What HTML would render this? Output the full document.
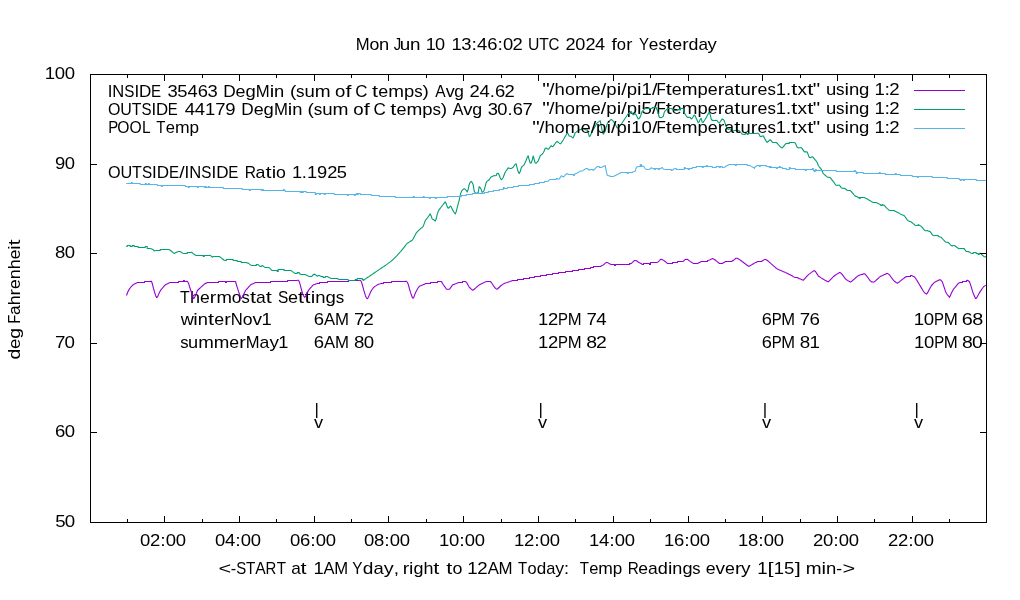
<!DOCTYPE html>
<html lang="en"><head><meta charset="utf-8"><title>Temperatures</title>
<style>
html,body{margin:0;padding:0;background:#fff;}
body{width:1020px;height:600px;overflow:hidden;}
svg{display:block;will-change:transform;}
text{font-family:"Liberation Sans",sans-serif;font-size:17px;fill:#000;font-kerning:none;}
.ax{stroke:#000;stroke-width:1;fill:none;shape-rendering:crispEdges;}
.c{fill:none;stroke-width:1.1;stroke-linejoin:round;stroke-linecap:butt;}
</style></head><body>
<svg width="1020" height="600" viewBox="0 0 1020 600">
<rect x="0" y="0" width="1020" height="600" fill="#ffffff"/>
<text xml:space="preserve"><tspan x="355.73" y="49.60" textLength="13.89" lengthAdjust="spacingAndGlyphs">M</tspan><tspan x="369.41" y="49.60" textLength="9.85" lengthAdjust="spacingAndGlyphs">o</tspan><tspan x="379.09" y="49.60" textLength="10.20" lengthAdjust="spacingAndGlyphs">n</tspan> <tspan x="393.87" y="49.60" textLength="7.48" lengthAdjust="spacingAndGlyphs">J</tspan><tspan x="399.84" y="49.60" textLength="10.49" lengthAdjust="spacingAndGlyphs">u</tspan><tspan x="410.14" y="49.60" textLength="10.49" lengthAdjust="spacingAndGlyphs">n</tspan> <tspan x="425.72" y="49.60" textLength="10.10" lengthAdjust="spacingAndGlyphs">1</tspan><tspan x="435.11" y="49.60" textLength="10.10" lengthAdjust="spacingAndGlyphs">0</tspan> <tspan x="451.40" y="49.60" textLength="10.25" lengthAdjust="spacingAndGlyphs">1</tspan><tspan x="461.28" y="49.60" textLength="10.25" lengthAdjust="spacingAndGlyphs">3</tspan><tspan x="471.54" y="49.60" textLength="5.43" lengthAdjust="spacingAndGlyphs">:</tspan><tspan x="476.97" y="49.60" textLength="10.25" lengthAdjust="spacingAndGlyphs">4</tspan><tspan x="487.22" y="49.60" textLength="10.25" lengthAdjust="spacingAndGlyphs">6</tspan><tspan x="497.48" y="49.60" textLength="5.43" lengthAdjust="spacingAndGlyphs">:</tspan><tspan x="502.91" y="49.60" textLength="10.25" lengthAdjust="spacingAndGlyphs">0</tspan><tspan x="512.47" y="49.60" textLength="10.25" lengthAdjust="spacingAndGlyphs">2</tspan> <tspan x="528.08" y="49.60" textLength="11.40" lengthAdjust="spacingAndGlyphs">U</tspan><tspan x="539.35" y="49.60" textLength="9.52" lengthAdjust="spacingAndGlyphs">T</tspan><tspan x="548.60" y="49.60" textLength="10.88" lengthAdjust="spacingAndGlyphs">C</tspan> <tspan x="565.49" y="49.60" textLength="10.09" lengthAdjust="spacingAndGlyphs">2</tspan><tspan x="575.33" y="49.60" textLength="10.09" lengthAdjust="spacingAndGlyphs">0</tspan><tspan x="585.41" y="49.60" textLength="10.09" lengthAdjust="spacingAndGlyphs">2</tspan><tspan x="595.14" y="49.60" textLength="10.09" lengthAdjust="spacingAndGlyphs">4</tspan> <tspan x="611.53" y="49.60" textLength="5.31" lengthAdjust="spacingAndGlyphs">f</tspan><tspan x="616.77" y="49.60" textLength="9.23" lengthAdjust="spacingAndGlyphs">o</tspan><tspan x="626.31" y="49.60" textLength="6.20" lengthAdjust="spacingAndGlyphs">r</tspan> <tspan x="638.97" y="49.60" textLength="9.98" lengthAdjust="spacingAndGlyphs">Y</tspan><tspan x="648.84" y="49.60" textLength="9.58" lengthAdjust="spacingAndGlyphs">e</tspan><tspan x="658.42" y="49.60" textLength="8.11" lengthAdjust="spacingAndGlyphs">s</tspan><tspan x="666.56" y="49.60" textLength="6.05" lengthAdjust="spacingAndGlyphs">t</tspan><tspan x="672.64" y="49.60" textLength="9.58" lengthAdjust="spacingAndGlyphs">e</tspan><tspan x="682.22" y="49.60" textLength="6.40" lengthAdjust="spacingAndGlyphs">r</tspan><tspan x="688.62" y="49.60" textLength="9.88" lengthAdjust="spacingAndGlyphs">d</tspan><tspan x="698.51" y="49.60" textLength="9.54" lengthAdjust="spacingAndGlyphs">a</tspan><tspan x="707.62" y="49.60" textLength="9.22" lengthAdjust="spacingAndGlyphs">y</tspan></text>
<text xml:space="preserve"><tspan x="44.78" y="79.00" textLength="10.34" lengthAdjust="spacingAndGlyphs">1</tspan><tspan x="54.75" y="79.00" textLength="10.34" lengthAdjust="spacingAndGlyphs">0</tspan><tspan x="64.74" y="79.00" textLength="10.34" lengthAdjust="spacingAndGlyphs">0</tspan></text>
<text xml:space="preserve"><tspan x="55.03" y="168.56" textLength="10.27" lengthAdjust="spacingAndGlyphs">9</tspan><tspan x="64.80" y="168.56" textLength="10.27" lengthAdjust="spacingAndGlyphs">0</tspan></text>
<text xml:space="preserve"><tspan x="55.09" y="258.12" textLength="10.31" lengthAdjust="spacingAndGlyphs">8</tspan><tspan x="64.76" y="258.12" textLength="10.31" lengthAdjust="spacingAndGlyphs">0</tspan></text>
<text xml:space="preserve"><tspan x="54.94" y="347.68" textLength="10.44" lengthAdjust="spacingAndGlyphs">7</tspan><tspan x="64.64" y="347.68" textLength="10.44" lengthAdjust="spacingAndGlyphs">0</tspan></text>
<text xml:space="preserve"><tspan x="54.96" y="437.24" textLength="10.33" lengthAdjust="spacingAndGlyphs">6</tspan><tspan x="64.74" y="437.24" textLength="10.33" lengthAdjust="spacingAndGlyphs">0</tspan></text>
<text xml:space="preserve"><tspan x="55.15" y="526.80" textLength="10.40" lengthAdjust="spacingAndGlyphs">5</tspan><tspan x="64.68" y="526.80" textLength="10.40" lengthAdjust="spacingAndGlyphs">0</tspan></text>
<text xml:space="preserve"><tspan x="140.08" y="545.60" textLength="10.29" lengthAdjust="spacingAndGlyphs">0</tspan><tspan x="150.02" y="545.60" textLength="10.29" lengthAdjust="spacingAndGlyphs">2</tspan><tspan x="160.31" y="545.60" textLength="5.45" lengthAdjust="spacingAndGlyphs">:</tspan><tspan x="165.75" y="545.60" textLength="10.29" lengthAdjust="spacingAndGlyphs">0</tspan><tspan x="175.69" y="545.60" textLength="10.29" lengthAdjust="spacingAndGlyphs">0</tspan></text>
<text xml:space="preserve"><tspan x="215.08" y="545.60" textLength="10.29" lengthAdjust="spacingAndGlyphs">0</tspan><tspan x="225.02" y="545.60" textLength="10.29" lengthAdjust="spacingAndGlyphs">4</tspan><tspan x="235.31" y="545.60" textLength="5.45" lengthAdjust="spacingAndGlyphs">:</tspan><tspan x="240.75" y="545.60" textLength="10.29" lengthAdjust="spacingAndGlyphs">0</tspan><tspan x="250.69" y="545.60" textLength="10.29" lengthAdjust="spacingAndGlyphs">0</tspan></text>
<text xml:space="preserve"><tspan x="290.08" y="545.60" textLength="10.29" lengthAdjust="spacingAndGlyphs">0</tspan><tspan x="300.02" y="545.60" textLength="10.29" lengthAdjust="spacingAndGlyphs">6</tspan><tspan x="310.31" y="545.60" textLength="5.45" lengthAdjust="spacingAndGlyphs">:</tspan><tspan x="315.75" y="545.60" textLength="10.29" lengthAdjust="spacingAndGlyphs">0</tspan><tspan x="325.69" y="545.60" textLength="10.29" lengthAdjust="spacingAndGlyphs">0</tspan></text>
<text xml:space="preserve"><tspan x="364.08" y="545.60" textLength="10.29" lengthAdjust="spacingAndGlyphs">0</tspan><tspan x="374.02" y="545.60" textLength="10.29" lengthAdjust="spacingAndGlyphs">8</tspan><tspan x="384.31" y="545.60" textLength="5.45" lengthAdjust="spacingAndGlyphs">:</tspan><tspan x="389.75" y="545.60" textLength="10.29" lengthAdjust="spacingAndGlyphs">0</tspan><tspan x="399.69" y="545.60" textLength="10.29" lengthAdjust="spacingAndGlyphs">0</tspan></text>
<text xml:space="preserve"><tspan x="439.09" y="545.60" textLength="10.29" lengthAdjust="spacingAndGlyphs">1</tspan><tspan x="449.01" y="545.60" textLength="10.29" lengthAdjust="spacingAndGlyphs">0</tspan><tspan x="459.30" y="545.60" textLength="5.45" lengthAdjust="spacingAndGlyphs">:</tspan><tspan x="464.75" y="545.60" textLength="10.29" lengthAdjust="spacingAndGlyphs">0</tspan><tspan x="474.69" y="545.60" textLength="10.29" lengthAdjust="spacingAndGlyphs">0</tspan></text>
<text xml:space="preserve"><tspan x="514.09" y="545.60" textLength="10.29" lengthAdjust="spacingAndGlyphs">1</tspan><tspan x="524.01" y="545.60" textLength="10.29" lengthAdjust="spacingAndGlyphs">2</tspan><tspan x="534.30" y="545.60" textLength="5.45" lengthAdjust="spacingAndGlyphs">:</tspan><tspan x="539.75" y="545.60" textLength="10.29" lengthAdjust="spacingAndGlyphs">0</tspan><tspan x="549.69" y="545.60" textLength="10.29" lengthAdjust="spacingAndGlyphs">0</tspan></text>
<text xml:space="preserve"><tspan x="589.09" y="545.60" textLength="10.29" lengthAdjust="spacingAndGlyphs">1</tspan><tspan x="599.01" y="545.60" textLength="10.29" lengthAdjust="spacingAndGlyphs">4</tspan><tspan x="609.30" y="545.60" textLength="5.45" lengthAdjust="spacingAndGlyphs">:</tspan><tspan x="614.75" y="545.60" textLength="10.29" lengthAdjust="spacingAndGlyphs">0</tspan><tspan x="624.69" y="545.60" textLength="10.29" lengthAdjust="spacingAndGlyphs">0</tspan></text>
<text xml:space="preserve"><tspan x="664.09" y="545.60" textLength="10.29" lengthAdjust="spacingAndGlyphs">1</tspan><tspan x="674.01" y="545.60" textLength="10.29" lengthAdjust="spacingAndGlyphs">6</tspan><tspan x="684.30" y="545.60" textLength="5.45" lengthAdjust="spacingAndGlyphs">:</tspan><tspan x="689.75" y="545.60" textLength="10.29" lengthAdjust="spacingAndGlyphs">0</tspan><tspan x="699.69" y="545.60" textLength="10.29" lengthAdjust="spacingAndGlyphs">0</tspan></text>
<text xml:space="preserve"><tspan x="738.09" y="545.60" textLength="10.29" lengthAdjust="spacingAndGlyphs">1</tspan><tspan x="748.01" y="545.60" textLength="10.29" lengthAdjust="spacingAndGlyphs">8</tspan><tspan x="758.30" y="545.60" textLength="5.45" lengthAdjust="spacingAndGlyphs">:</tspan><tspan x="763.75" y="545.60" textLength="10.29" lengthAdjust="spacingAndGlyphs">0</tspan><tspan x="773.69" y="545.60" textLength="10.29" lengthAdjust="spacingAndGlyphs">0</tspan></text>
<text xml:space="preserve"><tspan x="812.99" y="545.60" textLength="10.29" lengthAdjust="spacingAndGlyphs">2</tspan><tspan x="823.02" y="545.60" textLength="10.29" lengthAdjust="spacingAndGlyphs">0</tspan><tspan x="833.30" y="545.60" textLength="5.45" lengthAdjust="spacingAndGlyphs">:</tspan><tspan x="838.75" y="545.60" textLength="10.29" lengthAdjust="spacingAndGlyphs">0</tspan><tspan x="848.69" y="545.60" textLength="10.29" lengthAdjust="spacingAndGlyphs">0</tspan></text>
<text xml:space="preserve"><tspan x="887.99" y="545.60" textLength="10.29" lengthAdjust="spacingAndGlyphs">2</tspan><tspan x="898.02" y="545.60" textLength="10.29" lengthAdjust="spacingAndGlyphs">2</tspan><tspan x="908.30" y="545.60" textLength="5.45" lengthAdjust="spacingAndGlyphs">:</tspan><tspan x="913.75" y="545.60" textLength="10.29" lengthAdjust="spacingAndGlyphs">0</tspan><tspan x="923.69" y="545.60" textLength="10.29" lengthAdjust="spacingAndGlyphs">0</tspan></text>
<text xml:space="preserve"><tspan x="218.63" y="573.80" textLength="12.71" lengthAdjust="spacingAndGlyphs">&lt;</tspan><tspan x="230.84" y="573.80" textLength="5.49" lengthAdjust="spacingAndGlyphs">-</tspan><tspan x="236.17" y="573.80" textLength="9.98" lengthAdjust="spacingAndGlyphs">S</tspan><tspan x="245.99" y="573.80" textLength="9.29" lengthAdjust="spacingAndGlyphs">T</tspan><tspan x="255.28" y="573.80" textLength="10.41" lengthAdjust="spacingAndGlyphs">A</tspan><tspan x="265.57" y="573.80" textLength="10.80" lengthAdjust="spacingAndGlyphs">R</tspan><tspan x="276.65" y="573.80" textLength="9.29" lengthAdjust="spacingAndGlyphs">T</tspan> <tspan x="291.17" y="573.80" textLength="9.58" lengthAdjust="spacingAndGlyphs">a</tspan><tspan x="300.41" y="573.80" textLength="6.05" lengthAdjust="spacingAndGlyphs">t</tspan> <tspan x="313.60" y="573.80" textLength="10.24" lengthAdjust="spacingAndGlyphs">1</tspan><tspan x="323.47" y="573.80" textLength="11.01" lengthAdjust="spacingAndGlyphs">A</tspan><tspan x="334.28" y="573.80" textLength="13.89" lengthAdjust="spacingAndGlyphs">M</tspan> <tspan x="352.26" y="573.80" textLength="10.24" lengthAdjust="spacingAndGlyphs">Y</tspan><tspan x="362.87" y="573.80" textLength="10.64" lengthAdjust="spacingAndGlyphs">d</tspan><tspan x="373.51" y="573.80" textLength="10.27" lengthAdjust="spacingAndGlyphs">a</tspan><tspan x="383.79" y="573.80" textLength="9.92" lengthAdjust="spacingAndGlyphs">y</tspan><tspan x="393.79" y="573.80" textLength="5.33" lengthAdjust="spacingAndGlyphs">,</tspan> <tspan x="402.71" y="573.80" textLength="6.48" lengthAdjust="spacingAndGlyphs">r</tspan><tspan x="409.05" y="573.80" textLength="4.38" lengthAdjust="spacingAndGlyphs">i</tspan><tspan x="413.42" y="573.80" textLength="10.00" lengthAdjust="spacingAndGlyphs">g</tspan><tspan x="423.42" y="573.80" textLength="9.98" lengthAdjust="spacingAndGlyphs">h</tspan><tspan x="433.31" y="573.80" textLength="6.05" lengthAdjust="spacingAndGlyphs">t</tspan> <tspan x="446.27" y="573.80" textLength="6.05" lengthAdjust="spacingAndGlyphs">t</tspan><tspan x="452.40" y="573.80" textLength="9.95" lengthAdjust="spacingAndGlyphs">o</tspan> <tspan x="467.28" y="573.80" textLength="10.38" lengthAdjust="spacingAndGlyphs">1</tspan><tspan x="477.29" y="573.80" textLength="10.38" lengthAdjust="spacingAndGlyphs">2</tspan><tspan x="487.66" y="573.80" textLength="11.16" lengthAdjust="spacingAndGlyphs">A</tspan><tspan x="498.61" y="573.80" textLength="14.07" lengthAdjust="spacingAndGlyphs">M</tspan> <tspan x="518.06" y="573.80" textLength="9.14" lengthAdjust="spacingAndGlyphs">T</tspan><tspan x="527.57" y="573.80" textLength="9.14" lengthAdjust="spacingAndGlyphs">o</tspan><tspan x="536.72" y="573.80" textLength="9.49" lengthAdjust="spacingAndGlyphs">d</tspan><tspan x="546.20" y="573.80" textLength="9.16" lengthAdjust="spacingAndGlyphs">a</tspan><tspan x="555.36" y="573.80" textLength="8.85" lengthAdjust="spacingAndGlyphs">y</tspan><tspan x="564.12" y="573.80" textLength="5.04" lengthAdjust="spacingAndGlyphs">:</tspan>  <tspan x="579.66" y="573.80" textLength="9.14" lengthAdjust="spacingAndGlyphs">T</tspan><tspan x="589.17" y="573.80" textLength="9.20" lengthAdjust="spacingAndGlyphs">e</tspan><tspan x="598.37" y="573.80" textLength="14.56" lengthAdjust="spacingAndGlyphs">m</tspan><tspan x="612.83" y="573.80" textLength="9.49" lengthAdjust="spacingAndGlyphs">p</tspan> <tspan x="627.65" y="573.80" textLength="11.03" lengthAdjust="spacingAndGlyphs">R</tspan><tspan x="638.37" y="573.80" textLength="9.77" lengthAdjust="spacingAndGlyphs">e</tspan><tspan x="648.14" y="573.80" textLength="9.73" lengthAdjust="spacingAndGlyphs">a</tspan><tspan x="657.87" y="573.80" textLength="10.08" lengthAdjust="spacingAndGlyphs">d</tspan><tspan x="667.95" y="573.80" textLength="4.41" lengthAdjust="spacingAndGlyphs">i</tspan><tspan x="672.36" y="573.80" textLength="10.06" lengthAdjust="spacingAndGlyphs">n</tspan><tspan x="682.42" y="573.80" textLength="10.08" lengthAdjust="spacingAndGlyphs">g</tspan><tspan x="692.33" y="573.80" textLength="8.27" lengthAdjust="spacingAndGlyphs">s</tspan> <tspan x="705.85" y="573.80" textLength="9.88" lengthAdjust="spacingAndGlyphs">e</tspan><tspan x="715.59" y="573.80" textLength="9.50" lengthAdjust="spacingAndGlyphs">v</tspan><tspan x="725.10" y="573.80" textLength="9.88" lengthAdjust="spacingAndGlyphs">e</tspan><tspan x="734.97" y="573.80" textLength="6.60" lengthAdjust="spacingAndGlyphs">r</tspan><tspan x="741.13" y="573.80" textLength="9.50" lengthAdjust="spacingAndGlyphs">y</tspan> <tspan x="757.38" y="573.80" textLength="10.34" lengthAdjust="spacingAndGlyphs">1</tspan><tspan x="767.50" y="573.80" textLength="6.05" lengthAdjust="spacingAndGlyphs">[</tspan><tspan x="773.69" y="573.80" textLength="10.34" lengthAdjust="spacingAndGlyphs">1</tspan><tspan x="784.02" y="573.80" textLength="10.34" lengthAdjust="spacingAndGlyphs">5</tspan><tspan x="794.81" y="573.80" textLength="6.05" lengthAdjust="spacingAndGlyphs">]</tspan> <tspan x="805.84" y="573.80" textLength="15.85" lengthAdjust="spacingAndGlyphs">m</tspan><tspan x="821.48" y="573.80" textLength="4.52" lengthAdjust="spacingAndGlyphs">i</tspan><tspan x="826.00" y="573.80" textLength="10.32" lengthAdjust="spacingAndGlyphs">n</tspan><tspan x="836.31" y="573.80" textLength="5.87" lengthAdjust="spacingAndGlyphs">-</tspan><tspan x="842.46" y="573.80" textLength="12.71" lengthAdjust="spacingAndGlyphs">&gt;</tspan></text>
<text transform="rotate(-90 20.00 359.70)" xml:space="preserve"><tspan x="20.09" y="359.70" textLength="10.77" lengthAdjust="spacingAndGlyphs">d</tspan><tspan x="30.73" y="359.70" textLength="10.44" lengthAdjust="spacingAndGlyphs">e</tspan><tspan x="40.88" y="359.70" textLength="10.77" lengthAdjust="spacingAndGlyphs">g</tspan> <tspan x="55.97" y="359.70" textLength="9.14" lengthAdjust="spacingAndGlyphs">F</tspan><tspan x="64.70" y="359.70" textLength="9.64" lengthAdjust="spacingAndGlyphs">a</tspan><tspan x="74.34" y="359.70" textLength="9.97" lengthAdjust="spacingAndGlyphs">h</tspan><tspan x="84.30" y="359.70" textLength="6.46" lengthAdjust="spacingAndGlyphs">r</tspan><tspan x="90.77" y="359.70" textLength="9.67" lengthAdjust="spacingAndGlyphs">e</tspan><tspan x="100.44" y="359.70" textLength="9.97" lengthAdjust="spacingAndGlyphs">n</tspan><tspan x="110.40" y="359.70" textLength="9.97" lengthAdjust="spacingAndGlyphs">h</tspan><tspan x="120.37" y="359.70" textLength="9.67" lengthAdjust="spacingAndGlyphs">e</tspan><tspan x="130.04" y="359.70" textLength="4.37" lengthAdjust="spacingAndGlyphs">i</tspan><tspan x="134.31" y="359.70" textLength="6.05" lengthAdjust="spacingAndGlyphs">t</tspan></text>
<text xml:space="preserve"><tspan x="107.64" y="96.80" textLength="4.71" lengthAdjust="spacingAndGlyphs">I</tspan><tspan x="112.34" y="96.80" textLength="11.95" lengthAdjust="spacingAndGlyphs">N</tspan><tspan x="124.29" y="96.80" textLength="10.14" lengthAdjust="spacingAndGlyphs">S</tspan><tspan x="134.43" y="96.80" textLength="4.71" lengthAdjust="spacingAndGlyphs">I</tspan><tspan x="139.13" y="96.80" textLength="12.30" lengthAdjust="spacingAndGlyphs">D</tspan><tspan x="151.06" y="96.80" textLength="10.09" lengthAdjust="spacingAndGlyphs">E</tspan> <tspan x="167.50" y="96.80" textLength="10.24" lengthAdjust="spacingAndGlyphs">3</tspan><tspan x="177.22" y="96.80" textLength="10.24" lengthAdjust="spacingAndGlyphs">5</tspan><tspan x="187.46" y="96.80" textLength="10.24" lengthAdjust="spacingAndGlyphs">4</tspan><tspan x="197.70" y="96.80" textLength="10.24" lengthAdjust="spacingAndGlyphs">6</tspan><tspan x="207.47" y="96.80" textLength="10.24" lengthAdjust="spacingAndGlyphs">3</tspan> <tspan x="223.29" y="96.80" textLength="12.45" lengthAdjust="spacingAndGlyphs">D</tspan><tspan x="235.57" y="96.80" textLength="9.95" lengthAdjust="spacingAndGlyphs">e</tspan><tspan x="245.51" y="96.80" textLength="10.27" lengthAdjust="spacingAndGlyphs">g</tspan><tspan x="255.78" y="96.80" textLength="13.95" lengthAdjust="spacingAndGlyphs">M</tspan><tspan x="269.73" y="96.80" textLength="4.49" lengthAdjust="spacingAndGlyphs">i</tspan><tspan x="274.05" y="96.80" textLength="10.25" lengthAdjust="spacingAndGlyphs">n</tspan> <tspan x="289.92" y="96.80" textLength="6.35" lengthAdjust="spacingAndGlyphs">(</tspan><tspan x="296.05" y="96.80" textLength="8.48" lengthAdjust="spacingAndGlyphs">s</tspan><tspan x="304.52" y="96.80" textLength="10.31" lengthAdjust="spacingAndGlyphs">u</tspan><tspan x="314.71" y="96.80" textLength="15.85" lengthAdjust="spacingAndGlyphs">m</tspan> <tspan x="335.12" y="96.80" textLength="10.35" lengthAdjust="spacingAndGlyphs">o</tspan><tspan x="345.61" y="96.80" textLength="5.96" lengthAdjust="spacingAndGlyphs">f</tspan> <tspan x="355.31" y="96.80" textLength="12.23" lengthAdjust="spacingAndGlyphs">C</tspan> <tspan x="372.07" y="96.80" textLength="6.05" lengthAdjust="spacingAndGlyphs">t</tspan><tspan x="378.30" y="96.80" textLength="9.95" lengthAdjust="spacingAndGlyphs">e</tspan><tspan x="388.25" y="96.80" textLength="15.75" lengthAdjust="spacingAndGlyphs">m</tspan><tspan x="404.00" y="96.80" textLength="10.26" lengthAdjust="spacingAndGlyphs">p</tspan><tspan x="414.26" y="96.80" textLength="8.42" lengthAdjust="spacingAndGlyphs">s</tspan><tspan x="422.47" y="96.80" textLength="6.31" lengthAdjust="spacingAndGlyphs">)</tspan> <tspan x="435.37" y="96.80" textLength="10.38" lengthAdjust="spacingAndGlyphs">A</tspan><tspan x="445.66" y="96.80" textLength="8.98" lengthAdjust="spacingAndGlyphs">v</tspan><tspan x="454.38" y="96.80" textLength="9.63" lengthAdjust="spacingAndGlyphs">g</tspan> <tspan x="469.57" y="96.80" textLength="10.27" lengthAdjust="spacingAndGlyphs">2</tspan><tspan x="479.59" y="96.80" textLength="10.27" lengthAdjust="spacingAndGlyphs">4</tspan><tspan x="489.85" y="96.80" textLength="5.13" lengthAdjust="spacingAndGlyphs">.</tspan><tspan x="494.98" y="96.80" textLength="10.27" lengthAdjust="spacingAndGlyphs">6</tspan><tspan x="504.56" y="96.80" textLength="10.27" lengthAdjust="spacingAndGlyphs">2</tspan></text>
<text xml:space="preserve"><tspan x="107.94" y="114.80" textLength="12.42" lengthAdjust="spacingAndGlyphs">O</tspan><tspan x="120.23" y="114.80" textLength="11.55" lengthAdjust="spacingAndGlyphs">U</tspan><tspan x="131.78" y="114.80" textLength="9.64" lengthAdjust="spacingAndGlyphs">T</tspan><tspan x="141.42" y="114.80" textLength="10.02" lengthAdjust="spacingAndGlyphs">S</tspan><tspan x="151.44" y="114.80" textLength="4.65" lengthAdjust="spacingAndGlyphs">I</tspan><tspan x="156.09" y="114.80" textLength="12.15" lengthAdjust="spacingAndGlyphs">D</tspan><tspan x="167.86" y="114.80" textLength="9.98" lengthAdjust="spacingAndGlyphs">E</tspan> <tspan x="184.77" y="114.80" textLength="10.31" lengthAdjust="spacingAndGlyphs">4</tspan><tspan x="194.72" y="114.80" textLength="10.31" lengthAdjust="spacingAndGlyphs">4</tspan><tspan x="205.02" y="114.80" textLength="10.31" lengthAdjust="spacingAndGlyphs">1</tspan><tspan x="215.33" y="114.80" textLength="10.31" lengthAdjust="spacingAndGlyphs">7</tspan><tspan x="225.37" y="114.80" textLength="10.31" lengthAdjust="spacingAndGlyphs">9</tspan> <tspan x="241.39" y="114.80" textLength="12.45" lengthAdjust="spacingAndGlyphs">D</tspan><tspan x="253.67" y="114.80" textLength="9.95" lengthAdjust="spacingAndGlyphs">e</tspan><tspan x="263.61" y="114.80" textLength="10.27" lengthAdjust="spacingAndGlyphs">g</tspan><tspan x="273.88" y="114.80" textLength="13.95" lengthAdjust="spacingAndGlyphs">M</tspan><tspan x="287.83" y="114.80" textLength="4.49" lengthAdjust="spacingAndGlyphs">i</tspan><tspan x="292.15" y="114.80" textLength="10.25" lengthAdjust="spacingAndGlyphs">n</tspan> <tspan x="307.51" y="114.80" textLength="6.40" lengthAdjust="spacingAndGlyphs">(</tspan><tspan x="313.69" y="114.80" textLength="8.54" lengthAdjust="spacingAndGlyphs">s</tspan><tspan x="322.23" y="114.80" textLength="10.39" lengthAdjust="spacingAndGlyphs">u</tspan><tspan x="332.49" y="114.80" textLength="15.97" lengthAdjust="spacingAndGlyphs">m</tspan> <tspan x="353.21" y="114.80" textLength="10.42" lengthAdjust="spacingAndGlyphs">o</tspan><tspan x="363.77" y="114.80" textLength="6.00" lengthAdjust="spacingAndGlyphs">f</tspan> <tspan x="373.40" y="114.80" textLength="12.35" lengthAdjust="spacingAndGlyphs">C</tspan> <tspan x="390.17" y="114.80" textLength="6.05" lengthAdjust="spacingAndGlyphs">t</tspan><tspan x="396.44" y="114.80" textLength="10.00" lengthAdjust="spacingAndGlyphs">e</tspan><tspan x="406.44" y="114.80" textLength="15.83" lengthAdjust="spacingAndGlyphs">m</tspan><tspan x="422.27" y="114.80" textLength="10.32" lengthAdjust="spacingAndGlyphs">p</tspan><tspan x="432.59" y="114.80" textLength="8.47" lengthAdjust="spacingAndGlyphs">s</tspan><tspan x="440.84" y="114.80" textLength="6.34" lengthAdjust="spacingAndGlyphs">)</tspan> <tspan x="452.77" y="114.80" textLength="10.68" lengthAdjust="spacingAndGlyphs">A</tspan><tspan x="463.36" y="114.80" textLength="9.24" lengthAdjust="spacingAndGlyphs">v</tspan><tspan x="472.34" y="114.80" textLength="9.91" lengthAdjust="spacingAndGlyphs">g</tspan> <tspan x="487.70" y="114.80" textLength="10.20" lengthAdjust="spacingAndGlyphs">3</tspan><tspan x="497.38" y="114.80" textLength="10.20" lengthAdjust="spacingAndGlyphs">0</tspan><tspan x="507.58" y="114.80" textLength="5.10" lengthAdjust="spacingAndGlyphs">.</tspan><tspan x="512.67" y="114.80" textLength="10.20" lengthAdjust="spacingAndGlyphs">6</tspan><tspan x="522.42" y="114.80" textLength="10.20" lengthAdjust="spacingAndGlyphs">7</tspan></text>
<text xml:space="preserve"><tspan x="108.17" y="132.80" textLength="9.98" lengthAdjust="spacingAndGlyphs">P</tspan><tspan x="117.21" y="132.80" textLength="12.18" lengthAdjust="spacingAndGlyphs">O</tspan><tspan x="129.39" y="132.80" textLength="12.18" lengthAdjust="spacingAndGlyphs">O</tspan><tspan x="142.00" y="132.80" textLength="8.62" lengthAdjust="spacingAndGlyphs">L</tspan> <tspan x="156.16" y="132.80" textLength="9.17" lengthAdjust="spacingAndGlyphs">T</tspan><tspan x="165.72" y="132.80" textLength="9.24" lengthAdjust="spacingAndGlyphs">e</tspan><tspan x="174.96" y="132.80" textLength="14.63" lengthAdjust="spacingAndGlyphs">m</tspan><tspan x="189.49" y="132.80" textLength="9.53" lengthAdjust="spacingAndGlyphs">p</tspan></text>
<text xml:space="preserve"><tspan x="107.93" y="177.50" textLength="12.60" lengthAdjust="spacingAndGlyphs">O</tspan><tspan x="120.40" y="177.50" textLength="11.72" lengthAdjust="spacingAndGlyphs">U</tspan><tspan x="132.12" y="177.50" textLength="9.78" lengthAdjust="spacingAndGlyphs">T</tspan><tspan x="141.89" y="177.50" textLength="10.16" lengthAdjust="spacingAndGlyphs">S</tspan><tspan x="152.05" y="177.50" textLength="4.72" lengthAdjust="spacingAndGlyphs">I</tspan><tspan x="156.78" y="177.50" textLength="12.33" lengthAdjust="spacingAndGlyphs">D</tspan><tspan x="169.10" y="177.50" textLength="10.11" lengthAdjust="spacingAndGlyphs">E</tspan><tspan x="179.22" y="177.50" textLength="5.39" lengthAdjust="spacingAndGlyphs">/</tspan><tspan x="184.61" y="177.50" textLength="4.72" lengthAdjust="spacingAndGlyphs">I</tspan><tspan x="189.33" y="177.50" textLength="11.97" lengthAdjust="spacingAndGlyphs">N</tspan><tspan x="201.30" y="177.50" textLength="10.16" lengthAdjust="spacingAndGlyphs">S</tspan><tspan x="211.46" y="177.50" textLength="4.72" lengthAdjust="spacingAndGlyphs">I</tspan><tspan x="216.18" y="177.50" textLength="12.33" lengthAdjust="spacingAndGlyphs">D</tspan><tspan x="228.14" y="177.50" textLength="10.11" lengthAdjust="spacingAndGlyphs">E</tspan> <tspan x="244.63" y="177.50" textLength="11.21" lengthAdjust="spacingAndGlyphs">R</tspan><tspan x="255.52" y="177.50" textLength="9.88" lengthAdjust="spacingAndGlyphs">a</tspan><tspan x="265.55" y="177.50" textLength="6.05" lengthAdjust="spacingAndGlyphs">t</tspan><tspan x="271.73" y="177.50" textLength="4.48" lengthAdjust="spacingAndGlyphs">i</tspan><tspan x="276.08" y="177.50" textLength="9.87" lengthAdjust="spacingAndGlyphs">o</tspan> <tspan x="292.00" y="177.50" textLength="10.19" lengthAdjust="spacingAndGlyphs">1</tspan><tspan x="301.83" y="177.50" textLength="5.09" lengthAdjust="spacingAndGlyphs">.</tspan><tspan x="306.93" y="177.50" textLength="10.19" lengthAdjust="spacingAndGlyphs">1</tspan><tspan x="317.12" y="177.50" textLength="10.19" lengthAdjust="spacingAndGlyphs">9</tspan><tspan x="327.31" y="177.50" textLength="10.19" lengthAdjust="spacingAndGlyphs">2</tspan><tspan x="336.88" y="177.50" textLength="10.19" lengthAdjust="spacingAndGlyphs">5</tspan></text>
<text xml:space="preserve"><tspan x="179.99" y="302.60" textLength="9.69" lengthAdjust="spacingAndGlyphs">T</tspan><tspan x="190.08" y="302.60" textLength="10.05" lengthAdjust="spacingAndGlyphs">h</tspan><tspan x="200.13" y="302.60" textLength="9.76" lengthAdjust="spacingAndGlyphs">e</tspan><tspan x="209.89" y="302.60" textLength="6.52" lengthAdjust="spacingAndGlyphs">r</tspan><tspan x="216.41" y="302.60" textLength="15.45" lengthAdjust="spacingAndGlyphs">m</tspan><tspan x="231.86" y="302.60" textLength="9.70" lengthAdjust="spacingAndGlyphs">o</tspan><tspan x="241.56" y="302.60" textLength="8.26" lengthAdjust="spacingAndGlyphs">s</tspan><tspan x="249.91" y="302.60" textLength="6.05" lengthAdjust="spacingAndGlyphs">t</tspan><tspan x="256.04" y="302.60" textLength="9.72" lengthAdjust="spacingAndGlyphs">a</tspan><tspan x="265.71" y="302.60" textLength="6.05" lengthAdjust="spacingAndGlyphs">t</tspan> <tspan x="278.00" y="302.60" textLength="10.33" lengthAdjust="spacingAndGlyphs">S</tspan><tspan x="287.95" y="302.60" textLength="10.01" lengthAdjust="spacingAndGlyphs">e</tspan><tspan x="298.13" y="302.60" textLength="6.05" lengthAdjust="spacingAndGlyphs">t</tspan><tspan x="304.50" y="302.60" textLength="6.05" lengthAdjust="spacingAndGlyphs">t</tspan><tspan x="310.72" y="302.60" textLength="4.52" lengthAdjust="spacingAndGlyphs">i</tspan><tspan x="315.24" y="302.60" textLength="10.31" lengthAdjust="spacingAndGlyphs">n</tspan><tspan x="325.54" y="302.60" textLength="10.33" lengthAdjust="spacingAndGlyphs">g</tspan><tspan x="335.69" y="302.60" textLength="8.47" lengthAdjust="spacingAndGlyphs">s</tspan></text>
<text xml:space="preserve"><tspan x="180.83" y="325.00" textLength="13.16" lengthAdjust="spacingAndGlyphs">w</tspan><tspan x="193.28" y="325.00" textLength="4.47" lengthAdjust="spacingAndGlyphs">i</tspan><tspan x="197.75" y="325.00" textLength="10.19" lengthAdjust="spacingAndGlyphs">n</tspan><tspan x="208.07" y="325.00" textLength="6.05" lengthAdjust="spacingAndGlyphs">t</tspan><tspan x="214.25" y="325.00" textLength="9.90" lengthAdjust="spacingAndGlyphs">e</tspan><tspan x="224.15" y="325.00" textLength="6.61" lengthAdjust="spacingAndGlyphs">r</tspan><tspan x="230.76" y="325.00" textLength="12.03" lengthAdjust="spacingAndGlyphs">N</tspan><tspan x="242.79" y="325.00" textLength="9.84" lengthAdjust="spacingAndGlyphs">o</tspan><tspan x="252.63" y="325.00" textLength="9.52" lengthAdjust="spacingAndGlyphs">v</tspan><tspan x="261.56" y="325.00" textLength="10.23" lengthAdjust="spacingAndGlyphs">1</tspan></text>
<text xml:space="preserve"><tspan x="180.14" y="347.60" textLength="8.34" lengthAdjust="spacingAndGlyphs">s</tspan><tspan x="188.07" y="347.60" textLength="10.14" lengthAdjust="spacingAndGlyphs">u</tspan><tspan x="198.21" y="347.60" textLength="15.59" lengthAdjust="spacingAndGlyphs">m</tspan><tspan x="213.80" y="347.60" textLength="15.59" lengthAdjust="spacingAndGlyphs">m</tspan><tspan x="229.39" y="347.60" textLength="9.85" lengthAdjust="spacingAndGlyphs">e</tspan><tspan x="239.23" y="347.60" textLength="6.58" lengthAdjust="spacingAndGlyphs">r</tspan><tspan x="245.81" y="347.60" textLength="13.81" lengthAdjust="spacingAndGlyphs">M</tspan><tspan x="259.62" y="347.60" textLength="9.81" lengthAdjust="spacingAndGlyphs">a</tspan><tspan x="269.43" y="347.60" textLength="9.47" lengthAdjust="spacingAndGlyphs">y</tspan><tspan x="278.31" y="347.60" textLength="10.18" lengthAdjust="spacingAndGlyphs">1</tspan></text>
<text xml:space="preserve"><tspan x="313.86" y="324.80" textLength="10.32" lengthAdjust="spacingAndGlyphs">6</tspan><tspan x="323.99" y="324.80" textLength="11.10" lengthAdjust="spacingAndGlyphs">A</tspan><tspan x="334.88" y="324.80" textLength="14.00" lengthAdjust="spacingAndGlyphs">M</tspan> <tspan x="353.93" y="324.80" textLength="10.56" lengthAdjust="spacingAndGlyphs">7</tspan><tspan x="363.39" y="324.80" textLength="10.56" lengthAdjust="spacingAndGlyphs">2</tspan></text>
<text xml:space="preserve"><tspan x="313.86" y="347.80" textLength="10.32" lengthAdjust="spacingAndGlyphs">6</tspan><tspan x="323.99" y="347.80" textLength="11.10" lengthAdjust="spacingAndGlyphs">A</tspan><tspan x="334.88" y="347.80" textLength="14.00" lengthAdjust="spacingAndGlyphs">M</tspan> <tspan x="353.99" y="347.80" textLength="10.40" lengthAdjust="spacingAndGlyphs">8</tspan><tspan x="363.73" y="347.80" textLength="10.40" lengthAdjust="spacingAndGlyphs">0</tspan></text>
<text xml:space="preserve"><tspan x="538.10" y="324.80" textLength="10.26" lengthAdjust="spacingAndGlyphs">1</tspan><tspan x="547.99" y="324.80" textLength="10.26" lengthAdjust="spacingAndGlyphs">2</tspan><tspan x="558.11" y="324.80" textLength="9.98" lengthAdjust="spacingAndGlyphs">P</tspan><tspan x="567.76" y="324.80" textLength="13.91" lengthAdjust="spacingAndGlyphs">M</tspan> <tspan x="586.54" y="324.80" textLength="10.38" lengthAdjust="spacingAndGlyphs">7</tspan><tspan x="596.17" y="324.80" textLength="10.38" lengthAdjust="spacingAndGlyphs">4</tspan></text>
<text xml:space="preserve"><tspan x="538.10" y="347.80" textLength="10.26" lengthAdjust="spacingAndGlyphs">1</tspan><tspan x="547.99" y="347.80" textLength="10.26" lengthAdjust="spacingAndGlyphs">2</tspan><tspan x="558.11" y="347.80" textLength="9.98" lengthAdjust="spacingAndGlyphs">P</tspan><tspan x="567.76" y="347.80" textLength="13.91" lengthAdjust="spacingAndGlyphs">M</tspan> <tspan x="586.15" y="347.80" textLength="10.83" lengthAdjust="spacingAndGlyphs">8</tspan><tspan x="595.95" y="347.80" textLength="10.83" lengthAdjust="spacingAndGlyphs">2</tspan></text>
<text xml:space="preserve"><tspan x="761.87" y="324.80" textLength="10.16" lengthAdjust="spacingAndGlyphs">6</tspan><tspan x="771.67" y="324.80" textLength="9.98" lengthAdjust="spacingAndGlyphs">P</tspan><tspan x="781.28" y="324.80" textLength="13.78" lengthAdjust="spacingAndGlyphs">M</tspan> <tspan x="799.74" y="324.80" textLength="10.44" lengthAdjust="spacingAndGlyphs">7</tspan><tspan x="809.59" y="324.80" textLength="10.44" lengthAdjust="spacingAndGlyphs">6</tspan></text>
<text xml:space="preserve"><tspan x="761.87" y="347.80" textLength="10.16" lengthAdjust="spacingAndGlyphs">6</tspan><tspan x="771.67" y="347.80" textLength="9.98" lengthAdjust="spacingAndGlyphs">P</tspan><tspan x="781.28" y="347.80" textLength="13.78" lengthAdjust="spacingAndGlyphs">M</tspan> <tspan x="799.88" y="347.80" textLength="10.47" lengthAdjust="spacingAndGlyphs">8</tspan><tspan x="809.45" y="347.80" textLength="10.47" lengthAdjust="spacingAndGlyphs">1</tspan></text>
<text xml:space="preserve"><tspan x="913.78" y="324.80" textLength="10.38" lengthAdjust="spacingAndGlyphs">1</tspan><tspan x="923.79" y="324.80" textLength="10.38" lengthAdjust="spacingAndGlyphs">0</tspan><tspan x="934.10" y="324.80" textLength="9.98" lengthAdjust="spacingAndGlyphs">P</tspan><tspan x="943.81" y="324.80" textLength="14.08" lengthAdjust="spacingAndGlyphs">M</tspan> <tspan x="961.79" y="324.80" textLength="11.05" lengthAdjust="spacingAndGlyphs">6</tspan><tspan x="972.31" y="324.80" textLength="11.05" lengthAdjust="spacingAndGlyphs">8</tspan></text>
<text xml:space="preserve"><tspan x="913.98" y="347.80" textLength="10.33" lengthAdjust="spacingAndGlyphs">1</tspan><tspan x="923.95" y="347.80" textLength="10.33" lengthAdjust="spacingAndGlyphs">0</tspan><tspan x="934.19" y="347.80" textLength="9.98" lengthAdjust="spacingAndGlyphs">P</tspan><tspan x="943.87" y="347.80" textLength="14.01" lengthAdjust="spacingAndGlyphs">M</tspan> <tspan x="961.95" y="347.80" textLength="10.84" lengthAdjust="spacingAndGlyphs">8</tspan><tspan x="972.12" y="347.80" textLength="10.84" lengthAdjust="spacingAndGlyphs">0</tspan></text>
<text xml:space="preserve"><tspan x="314.62" y="414.50" textLength="4.46" lengthAdjust="spacingAndGlyphs">|</tspan></text>
<text xml:space="preserve"><tspan x="313.94" y="427.80" textLength="9.12" lengthAdjust="spacingAndGlyphs">v</tspan></text>
<text xml:space="preserve"><tspan x="538.62" y="414.50" textLength="4.46" lengthAdjust="spacingAndGlyphs">|</tspan></text>
<text xml:space="preserve"><tspan x="537.94" y="427.80" textLength="9.12" lengthAdjust="spacingAndGlyphs">v</tspan></text>
<text xml:space="preserve"><tspan x="762.82" y="414.50" textLength="4.46" lengthAdjust="spacingAndGlyphs">|</tspan></text>
<text xml:space="preserve"><tspan x="762.14" y="427.80" textLength="9.12" lengthAdjust="spacingAndGlyphs">v</tspan></text>
<text xml:space="preserve"><tspan x="914.62" y="414.50" textLength="4.46" lengthAdjust="spacingAndGlyphs">|</tspan></text>
<text xml:space="preserve"><tspan x="913.94" y="427.80" textLength="9.12" lengthAdjust="spacingAndGlyphs">v</tspan></text>
<text xml:space="preserve"><tspan x="542.30" y="94.80" textLength="7.50" lengthAdjust="spacingAndGlyphs">"</tspan><tspan x="549.13" y="94.80" textLength="5.49" lengthAdjust="spacingAndGlyphs">/</tspan><tspan x="554.62" y="94.80" textLength="10.33" lengthAdjust="spacingAndGlyphs">h</tspan><tspan x="564.95" y="94.80" textLength="9.97" lengthAdjust="spacingAndGlyphs">o</tspan><tspan x="574.92" y="94.80" textLength="15.87" lengthAdjust="spacingAndGlyphs">m</tspan><tspan x="590.79" y="94.80" textLength="10.03" lengthAdjust="spacingAndGlyphs">e</tspan><tspan x="600.82" y="94.80" textLength="5.49" lengthAdjust="spacingAndGlyphs">/</tspan><tspan x="606.31" y="94.80" textLength="10.34" lengthAdjust="spacingAndGlyphs">p</tspan><tspan x="616.65" y="94.80" textLength="4.53" lengthAdjust="spacingAndGlyphs">i</tspan><tspan x="621.18" y="94.80" textLength="5.49" lengthAdjust="spacingAndGlyphs">/</tspan><tspan x="626.67" y="94.80" textLength="10.34" lengthAdjust="spacingAndGlyphs">p</tspan><tspan x="637.01" y="94.80" textLength="4.53" lengthAdjust="spacingAndGlyphs">i</tspan><tspan x="641.54" y="94.80" textLength="10.37" lengthAdjust="spacingAndGlyphs">1</tspan><tspan x="651.91" y="94.80" textLength="5.49" lengthAdjust="spacingAndGlyphs">/</tspan><tspan x="656.55" y="94.80" textLength="9.29" lengthAdjust="spacingAndGlyphs">F</tspan><tspan x="665.65" y="94.80" textLength="6.05" lengthAdjust="spacingAndGlyphs">t</tspan><tspan x="671.84" y="94.80" textLength="9.94" lengthAdjust="spacingAndGlyphs">e</tspan><tspan x="681.77" y="94.80" textLength="15.73" lengthAdjust="spacingAndGlyphs">m</tspan><tspan x="697.51" y="94.80" textLength="10.25" lengthAdjust="spacingAndGlyphs">p</tspan><tspan x="707.76" y="94.80" textLength="9.94" lengthAdjust="spacingAndGlyphs">e</tspan><tspan x="717.70" y="94.80" textLength="6.64" lengthAdjust="spacingAndGlyphs">r</tspan><tspan x="724.34" y="94.80" textLength="9.90" lengthAdjust="spacingAndGlyphs">a</tspan><tspan x="734.38" y="94.80" textLength="6.05" lengthAdjust="spacingAndGlyphs">t</tspan><tspan x="740.56" y="94.80" textLength="10.24" lengthAdjust="spacingAndGlyphs">u</tspan><tspan x="750.80" y="94.80" textLength="6.64" lengthAdjust="spacingAndGlyphs">r</tspan><tspan x="757.44" y="94.80" textLength="9.94" lengthAdjust="spacingAndGlyphs">e</tspan><tspan x="767.38" y="94.80" textLength="8.41" lengthAdjust="spacingAndGlyphs">s</tspan><tspan x="775.79" y="94.80" textLength="10.28" lengthAdjust="spacingAndGlyphs">1</tspan><tspan x="786.07" y="94.80" textLength="5.13" lengthAdjust="spacingAndGlyphs">.</tspan><tspan x="791.35" y="94.80" textLength="6.05" lengthAdjust="spacingAndGlyphs">t</tspan><tspan x="797.53" y="94.80" textLength="9.56" lengthAdjust="spacingAndGlyphs">x</tspan><tspan x="807.24" y="94.80" textLength="6.05" lengthAdjust="spacingAndGlyphs">t</tspan><tspan x="812.76" y="94.80" textLength="7.43" lengthAdjust="spacingAndGlyphs">"</tspan> <tspan x="825.90" y="94.80" textLength="10.31" lengthAdjust="spacingAndGlyphs">u</tspan><tspan x="836.03" y="94.80" textLength="8.48" lengthAdjust="spacingAndGlyphs">s</tspan><tspan x="844.51" y="94.80" textLength="4.52" lengthAdjust="spacingAndGlyphs">i</tspan><tspan x="849.03" y="94.80" textLength="10.31" lengthAdjust="spacingAndGlyphs">n</tspan><tspan x="859.07" y="94.80" textLength="10.33" lengthAdjust="spacingAndGlyphs">g</tspan> <tspan x="874.58" y="94.80" textLength="10.37" lengthAdjust="spacingAndGlyphs">1</tspan><tspan x="884.58" y="94.80" textLength="5.49" lengthAdjust="spacingAndGlyphs">:</tspan><tspan x="889.37" y="94.80" textLength="10.37" lengthAdjust="spacingAndGlyphs">2</tspan></text>
<path d="M914 90.5H965" stroke="#9400d3" stroke-width="1" fill="none" shape-rendering="crispEdges"/>
<path class="c" stroke="#9400d3" d="M126.5 295.5 L127.5 292.8 L128.5 290.6 L129.5 288.9 L130.5 287.5 L131.5 286.4 L132.5 285.3 L133.5 284.6 L134.5 284.1 L135.5 283.6 L136.5 283.1 L137.5 282.5 L144.5 282.5 L144.5 281.5 L149.5 281.5 L150.5 281.4 L151.5 281.4 L152.5 284.3 L153.5 288.5 L154.5 292.0 L155.5 295.2 L156.5 297.4 L157.5 297.0 L158.5 294.6 L159.5 292.2 L160.5 290.4 L161.5 289.2 L162.5 288.0 L163.5 286.8 L164.5 285.6 L165.5 284.8 L166.5 284.2 L167.5 283.8 L168.5 283.2 L169.5 282.8 L170.5 282.5 L178.5 282.5 L178.5 281.5 L183.5 281.5 L183.5 280.5 L184.5 280.5 L184.5 281.5 L185.5 281.5 L186.5 281.4 L187.5 281.4 L188.5 283.2 L189.5 286.5 L190.5 289.5 L191.5 292.5 L192.5 295.5 L193.5 298.5 L194.5 297.8 L195.5 295.4 L196.5 292.9 L197.5 290.5 L198.5 289.5 L199.5 288.5 L200.5 287.6 L201.5 286.6 L202.5 285.8 L203.5 284.9 L204.5 283.9 L205.5 283.4 L206.5 283.1 L207.5 282.5 L218.5 282.5 L218.5 281.5 L225.5 281.5 L225.5 282.5 L226.5 282.5 L226.5 281.5 L232.5 281.5 L233.5 281.5 L234.5 281.5 L235.5 281.5 L236.5 285.0 L237.5 288.2 L238.5 291.4 L239.5 294.3 L240.5 297.0 L241.5 298.4 L242.5 297.0 L243.5 294.8 L244.5 292.7 L245.5 290.5 L246.5 289.4 L247.5 288.3 L248.5 287.2 L249.5 286.1 L250.5 285.0 L251.5 284.3 L252.5 283.9 L253.5 283.5 L254.5 283.1 L255.5 282.5 L270.5 282.5 L270.5 281.5 L287.5 281.5 L287.5 280.5 L296.5 280.5 L297.5 280.2 L298.5 280.2 L299.5 282.2 L300.5 285.9 L301.5 290.0 L302.5 293.2 L303.5 295.8 L304.5 297.3 L305.5 296.5 L306.5 294.3 L307.5 292.1 L308.5 290.4 L309.5 289.1 L310.5 287.9 L311.5 286.8 L312.5 285.6 L313.5 284.8 L314.5 284.5 L315.5 284.1 L316.5 283.8 L317.5 283.4 L318.5 283.5 L319.5 283.5 L319.5 282.5 L327.5 282.5 L327.5 281.5 L348.5 281.5 L348.5 280.5 L358.5 280.5 L359.5 280.3 L360.5 280.3 L361.5 282.0 L362.5 285.5 L363.5 289.2 L364.5 292.6 L365.5 295.9 L366.5 298.1 L367.5 298.7 L368.5 297.0 L369.5 294.6 L370.5 292.2 L371.5 290.3 L372.5 289.0 L373.5 287.7 L374.5 286.7 L375.5 286.1 L376.5 285.4 L377.5 284.8 L378.5 284.3 L379.5 284.0 L380.5 283.7 L381.5 283.3 L382.5 283.5 L383.5 283.5 L383.5 282.5 L391.5 282.5 L391.5 281.5 L404.5 281.5 L405.5 281.4 L406.5 281.4 L407.5 282.5 L408.5 285.1 L409.5 289.0 L410.5 292.4 L411.5 295.2 L412.5 298.0 L413.5 298.0 L414.5 295.4 L415.5 292.8 L416.5 290.7 L417.5 289.0 L418.5 287.3 L419.5 286.3 L420.5 285.8 L421.5 285.4 L422.5 284.9 L423.5 284.5 L424.5 284.2 L425.5 283.5 L430.5 283.5 L430.5 282.5 L437.5 282.5 L437.5 281.5 L439.5 281.5 L440.5 281.5 L441.5 281.6 L442.5 283.3 L443.5 285.0 L444.5 286.4 L445.5 287.8 L446.5 289.2 L447.5 289.2 L448.5 289.3 L449.5 289.3 L450.5 287.9 L451.5 286.4 L452.5 285.0 L453.5 284.6 L454.5 284.2 L455.5 283.8 L456.5 283.5 L457.5 283.1 L458.5 282.5 L462.5 282.5 L462.5 281.5 L463.5 281.5 L464.5 281.5 L465.5 281.6 L466.5 282.2 L467.5 284.1 L468.5 286.0 L469.5 287.5 L470.5 288.4 L471.5 289.3 L472.5 290.2 L473.5 289.9 L474.5 289.0 L475.5 288.1 L476.5 287.2 L477.5 286.3 L478.5 285.4 L479.5 284.8 L480.5 284.2 L481.5 283.8 L482.5 283.2 L483.5 282.8 L484.5 282.3 L485.5 282.0 L486.5 281.5 L488.5 281.5 L489.5 281.5 L490.5 281.6 L491.5 282.7 L492.5 284.2 L493.5 285.7 L494.5 287.2 L495.5 288.4 L496.5 289.1 L497.5 289.0 L498.5 288.0 L499.5 287.0 L500.5 286.0 L501.5 285.3 L502.5 284.6 L503.5 283.9 L504.5 283.3 L505.5 283.0 L506.5 282.7 L507.5 282.3 L508.5 282.0 L509.5 281.7 L510.5 281.3 L511.5 280.9 L512.5 280.5 L517.5 280.5 L517.5 279.5 L523.5 279.5 L523.5 278.5 L529.5 278.5 L529.5 277.5 L534.5 277.5 L534.5 276.5 L540.5 276.5 L540.5 275.5 L546.5 275.5 L546.5 274.5 L552.5 274.5 L552.5 273.5 L558.5 273.5 L558.5 272.5 L565.5 272.5 L565.5 271.5 L572.5 271.5 L572.5 270.5 L578.5 270.5 L578.5 269.5 L584.5 269.5 L584.5 268.5 L590.5 268.5 L590.5 267.5 L593.5 267.5 L593.5 266.5 L600.5 266.5 L601.5 265.8 L602.5 265.4 L603.5 264.8 L604.5 263.9 L605.5 262.9 L606.5 262.5 L607.5 262.5 L608.5 263.1 L609.5 263.7 L610.5 264.3 L611.5 264.5 L612.5 264.5 L614.5 264.5 L614.5 265.5 L615.5 265.5 L615.5 264.5 L629.5 264.5 L629.5 263.5 L630.5 263.6 L631.5 263.3 L632.5 262.4 L633.5 261.4 L634.5 260.5 L635.5 260.5 L636.5 260.8 L637.5 261.5 L638.5 262.2 L639.5 262.8 L640.5 263.3 L641.5 263.8 L642.5 264.5 L643.5 264.5 L643.5 263.5 L649.5 263.5 L649.5 264.5 L650.5 264.5 L650.5 262.5 L656.5 262.5 L657.5 262.2 L658.5 261.6 L659.5 260.5 L660.5 259.3 L661.5 259.4 L662.5 259.8 L663.5 260.4 L664.5 261.0 L665.5 261.7 L666.5 262.6 L667.5 263.5 L672.5 263.5 L672.5 262.5 L677.5 262.5 L677.5 261.5 L682.5 261.5 L683.5 261.2 L684.5 260.2 L685.5 259.3 L686.5 259.5 L687.5 259.3 L688.5 260.1 L689.5 260.9 L690.5 261.6 L691.5 262.2 L692.5 262.9 L693.5 263.5 L697.5 263.5 L698.5 263.0 L699.5 262.5 L700.5 262.0 L701.5 261.5 L707.5 261.5 L707.5 260.5 L708.5 260.3 L709.5 259.9 L710.5 259.4 L711.5 259.0 L712.5 258.5 L713.5 259.0 L714.5 259.5 L715.5 260.3 L716.5 261.1 L717.5 261.9 L718.5 262.7 L719.5 263.5 L722.5 263.5 L723.5 262.6 L724.5 262.2 L725.5 261.5 L731.5 261.5 L732.5 260.7 L733.5 260.4 L734.5 259.6 L735.5 258.3 L737.5 258.3 L738.5 259.0 L739.5 259.6 L740.5 260.3 L741.5 261.0 L742.5 261.8 L743.5 262.5 L744.5 263.3 L745.5 264.0 L746.5 264.8 L747.5 265.5 L748.5 266.3 L749.5 266.1 L750.5 265.5 L751.5 264.9 L752.5 264.3 L753.5 263.7 L754.5 263.1 L755.5 262.5 L756.5 262.2 L757.5 261.5 L761.5 261.5 L762.5 260.7 L763.5 260.1 L764.5 259.5 L765.5 259.5 L766.5 260.0 L767.5 260.5 L768.5 261.4 L769.5 262.3 L770.5 263.2 L771.5 264.1 L772.5 264.9 L773.5 265.8 L774.5 266.7 L775.5 267.6 L776.5 268.5 L777.5 269.0 L778.5 269.4 L779.5 269.9 L780.5 270.3 L781.5 270.8 L782.5 271.2 L783.5 271.7 L784.5 272.1 L785.5 272.6 L786.5 273.0 L787.5 273.5 L788.5 274.0 L789.5 274.6 L790.5 275.1 L791.5 275.6 L792.5 276.1 L793.5 276.7 L794.5 277.2 L795.5 277.5 L796.5 277.5 L797.5 277.5 L798.5 278.4 L799.5 278.7 L800.5 279.1 L801.5 279.5 L802.5 280.0 L803.5 280.1 L804.5 278.9 L805.5 277.8 L806.5 276.7 L807.5 275.6 L808.5 274.6 L809.5 273.9 L810.5 273.1 L811.5 272.4 L812.5 271.6 L813.5 270.9 L814.5 270.8 L815.5 271.5 L816.5 273.1 L817.5 274.6 L818.5 276.2 L819.5 276.8 L820.5 277.4 L821.5 278.1 L822.5 278.7 L823.5 279.3 L824.5 279.9 L825.5 280.4 L826.5 281.0 L827.5 281.6 L828.5 281.7 L829.5 280.7 L830.5 279.6 L831.5 278.6 L832.5 277.6 L833.5 276.5 L834.5 275.7 L835.5 275.0 L836.5 274.4 L837.5 273.8 L838.5 273.1 L839.5 272.5 L840.5 272.8 L841.5 273.6 L842.5 274.9 L843.5 276.2 L844.5 277.6 L845.5 278.9 L846.5 279.8 L847.5 280.4 L848.5 280.9 L849.5 281.5 L850.5 282.1 L851.5 281.5 L852.5 280.6 L853.5 279.7 L854.5 278.9 L855.5 278.0 L856.5 277.1 L857.5 276.2 L858.5 275.6 L859.5 275.2 L860.5 274.8 L861.5 274.5 L862.5 274.5 L863.5 273.7 L864.5 273.8 L865.5 274.5 L866.5 275.8 L867.5 277.2 L868.5 278.5 L869.5 279.8 L870.5 281.1 L871.5 281.9 L872.5 282.0 L873.5 282.1 L874.5 281.7 L875.5 280.8 L876.5 279.9 L877.5 279.0 L878.5 278.1 L879.5 277.2 L880.5 276.3 L881.5 275.9 L882.5 275.5 L883.5 275.0 L884.5 274.6 L885.5 274.2 L886.5 273.5 L887.5 273.5 L888.5 274.1 L889.5 274.9 L890.5 276.3 L891.5 277.7 L892.5 279.0 L893.5 280.4 L894.5 281.3 L895.5 282.0 L896.5 282.7 L897.5 283.2 L898.5 282.4 L899.5 281.7 L900.5 280.9 L901.5 280.1 L902.5 279.3 L903.5 278.6 L904.5 277.8 L905.5 277.0 L906.5 276.6 L907.5 276.5 L910.5 276.5 L910.5 275.5 L911.5 275.5 L912.5 275.9 L913.5 276.4 L914.5 276.9 L915.5 278.3 L916.5 279.8 L917.5 281.4 L918.5 283.0 L919.5 284.7 L920.5 286.4 L921.5 288.1 L922.5 289.8 L923.5 291.5 L924.5 292.7 L925.5 293.4 L926.5 294.1 L927.5 292.9 L928.5 291.0 L929.5 289.1 L930.5 287.2 L931.5 285.5 L932.5 284.5 L933.5 283.4 L934.5 282.4 L935.5 281.7 L936.5 281.2 L937.5 280.7 L938.5 280.2 L939.5 279.7 L940.5 279.9 L941.5 280.8 L942.5 282.3 L943.5 285.3 L944.5 288.4 L945.5 291.4 L946.5 293.5 L947.5 294.8 L948.5 296.0 L949.5 297.3 L950.5 295.2 L951.5 293.1 L952.5 291.1 L953.5 289.2 L954.5 288.0 L955.5 286.8 L956.5 285.6 L957.5 284.4 L958.5 283.2 L959.5 282.8 L960.5 282.4 L961.5 282.5 L962.5 282.5 L962.5 281.5 L966.5 281.5 L966.5 280.5 L967.5 280.3 L968.5 281.0 L969.5 281.8 L970.5 284.6 L971.5 287.9 L972.5 291.2 L973.5 294.0 L974.5 296.2 L975.5 298.4 L976.5 298.2 L977.5 296.3 L978.5 294.5 L979.5 292.6 L980.5 291.1 L981.5 289.6 L982.5 288.2 L983.5 286.8 L984.5 286.1 L985.5 285.4 L985.8 285.2"/>
<text xml:space="preserve"><tspan x="542.30" y="113.80" textLength="7.50" lengthAdjust="spacingAndGlyphs">"</tspan><tspan x="549.13" y="113.80" textLength="5.49" lengthAdjust="spacingAndGlyphs">/</tspan><tspan x="554.62" y="113.80" textLength="10.33" lengthAdjust="spacingAndGlyphs">h</tspan><tspan x="564.95" y="113.80" textLength="9.97" lengthAdjust="spacingAndGlyphs">o</tspan><tspan x="574.92" y="113.80" textLength="15.87" lengthAdjust="spacingAndGlyphs">m</tspan><tspan x="590.79" y="113.80" textLength="10.03" lengthAdjust="spacingAndGlyphs">e</tspan><tspan x="600.82" y="113.80" textLength="5.49" lengthAdjust="spacingAndGlyphs">/</tspan><tspan x="606.31" y="113.80" textLength="10.34" lengthAdjust="spacingAndGlyphs">p</tspan><tspan x="616.65" y="113.80" textLength="4.53" lengthAdjust="spacingAndGlyphs">i</tspan><tspan x="621.18" y="113.80" textLength="5.49" lengthAdjust="spacingAndGlyphs">/</tspan><tspan x="626.67" y="113.80" textLength="10.34" lengthAdjust="spacingAndGlyphs">p</tspan><tspan x="637.01" y="113.80" textLength="4.53" lengthAdjust="spacingAndGlyphs">i</tspan><tspan x="641.54" y="113.80" textLength="10.37" lengthAdjust="spacingAndGlyphs">5</tspan><tspan x="651.91" y="113.80" textLength="5.49" lengthAdjust="spacingAndGlyphs">/</tspan><tspan x="656.55" y="113.80" textLength="9.29" lengthAdjust="spacingAndGlyphs">F</tspan><tspan x="665.65" y="113.80" textLength="6.05" lengthAdjust="spacingAndGlyphs">t</tspan><tspan x="671.84" y="113.80" textLength="9.94" lengthAdjust="spacingAndGlyphs">e</tspan><tspan x="681.77" y="113.80" textLength="15.73" lengthAdjust="spacingAndGlyphs">m</tspan><tspan x="697.51" y="113.80" textLength="10.25" lengthAdjust="spacingAndGlyphs">p</tspan><tspan x="707.76" y="113.80" textLength="9.94" lengthAdjust="spacingAndGlyphs">e</tspan><tspan x="717.70" y="113.80" textLength="6.64" lengthAdjust="spacingAndGlyphs">r</tspan><tspan x="724.34" y="113.80" textLength="9.90" lengthAdjust="spacingAndGlyphs">a</tspan><tspan x="734.38" y="113.80" textLength="6.05" lengthAdjust="spacingAndGlyphs">t</tspan><tspan x="740.56" y="113.80" textLength="10.24" lengthAdjust="spacingAndGlyphs">u</tspan><tspan x="750.80" y="113.80" textLength="6.64" lengthAdjust="spacingAndGlyphs">r</tspan><tspan x="757.44" y="113.80" textLength="9.94" lengthAdjust="spacingAndGlyphs">e</tspan><tspan x="767.38" y="113.80" textLength="8.41" lengthAdjust="spacingAndGlyphs">s</tspan><tspan x="775.79" y="113.80" textLength="10.28" lengthAdjust="spacingAndGlyphs">1</tspan><tspan x="786.07" y="113.80" textLength="5.13" lengthAdjust="spacingAndGlyphs">.</tspan><tspan x="791.35" y="113.80" textLength="6.05" lengthAdjust="spacingAndGlyphs">t</tspan><tspan x="797.53" y="113.80" textLength="9.56" lengthAdjust="spacingAndGlyphs">x</tspan><tspan x="807.24" y="113.80" textLength="6.05" lengthAdjust="spacingAndGlyphs">t</tspan><tspan x="812.76" y="113.80" textLength="7.43" lengthAdjust="spacingAndGlyphs">"</tspan> <tspan x="825.90" y="113.80" textLength="10.31" lengthAdjust="spacingAndGlyphs">u</tspan><tspan x="836.03" y="113.80" textLength="8.48" lengthAdjust="spacingAndGlyphs">s</tspan><tspan x="844.51" y="113.80" textLength="4.52" lengthAdjust="spacingAndGlyphs">i</tspan><tspan x="849.03" y="113.80" textLength="10.31" lengthAdjust="spacingAndGlyphs">n</tspan><tspan x="859.07" y="113.80" textLength="10.33" lengthAdjust="spacingAndGlyphs">g</tspan> <tspan x="874.58" y="113.80" textLength="10.37" lengthAdjust="spacingAndGlyphs">1</tspan><tspan x="884.58" y="113.80" textLength="5.49" lengthAdjust="spacingAndGlyphs">:</tspan><tspan x="889.37" y="113.80" textLength="10.37" lengthAdjust="spacingAndGlyphs">2</tspan></text>
<path d="M914 109.5H965" stroke="#009e73" stroke-width="1" fill="none" shape-rendering="crispEdges"/>
<path class="c" stroke="#009e73" d="M126.2 246.5 L127.2 246.5 L127.2 245.5 L130.2 245.5 L130.2 246.5 L132.2 246.5 L132.2 245.5 L134.2 245.5 L134.2 246.5 L138.2 246.5 L138.2 247.5 L145.2 247.5 L145.2 246.5 L147.2 246.5 L147.2 248.5 L150.2 248.5 L151.2 248.8 L152.2 249.2 L153.2 249.7 L154.2 250.9 L155.2 250.8 L156.2 250.5 L160.2 250.5 L160.2 249.5 L168.2 249.5 L169.2 249.6 L170.2 250.2 L171.2 251.0 L172.2 251.9 L173.2 252.8 L174.2 253.4 L175.2 252.9 L176.2 252.4 L177.2 251.9 L178.2 251.5 L179.2 251.5 L180.2 251.5 L181.2 252.1 L182.2 253.0 L183.2 253.3 L184.2 253.5 L187.2 253.5 L187.2 252.5 L190.2 252.5 L191.2 252.3 L192.2 252.8 L193.2 253.6 L194.2 254.3 L195.2 255.1 L196.2 255.5 L203.2 255.5 L203.2 256.5 L204.2 256.5 L204.2 255.5 L209.2 255.5 L210.2 255.3 L211.2 256.2 L212.2 257.2 L213.2 256.5 L218.2 256.5 L219.2 256.6 L220.2 257.1 L221.2 257.9 L222.2 258.7 L223.2 259.5 L224.2 260.3 L225.2 260.5 L226.2 260.5 L226.2 259.5 L233.2 259.5 L233.2 260.5 L237.2 260.5 L237.2 261.5 L241.2 261.5 L241.2 262.5 L246.2 262.5 L247.2 262.9 L248.2 263.1 L249.2 263.9 L250.2 264.6 L251.2 265.3 L252.2 265.5 L256.2 265.5 L256.2 264.5 L257.2 264.6 L258.2 264.7 L259.2 265.7 L260.2 266.4 L261.2 266.5 L262.2 265.6 L263.2 266.1 L264.2 266.9 L265.2 267.5 L268.2 267.5 L269.2 267.7 L270.2 268.7 L271.2 269.7 L272.2 270.5 L277.2 270.5 L277.2 271.5 L278.2 271.5 L278.2 269.5 L284.2 269.5 L284.2 270.5 L290.2 270.5 L291.2 270.6 L292.2 271.4 L293.2 272.1 L294.2 272.9 L295.2 273.4 L296.2 273.5 L297.2 273.5 L297.2 272.5 L299.2 272.5 L299.2 273.5 L300.2 274.0 L301.2 274.5 L305.2 274.5 L306.2 275.1 L307.2 275.6 L308.2 276.1 L309.2 276.5 L310.2 276.5 L311.2 276.4 L312.2 276.0 L313.2 274.6 L314.2 274.3 L315.2 274.4 L316.2 275.4 L317.2 276.3 L318.2 275.5 L319.2 275.5 L320.2 276.0 L321.2 276.4 L322.2 276.5 L323.2 276.5 L323.2 277.5 L325.2 277.5 L325.2 276.5 L327.2 276.5 L328.2 277.1 L329.2 277.6 L330.2 278.1 L331.2 278.5 L336.2 278.5 L337.2 278.6 L338.2 279.0 L339.2 279.5 L348.2 279.5 L348.2 280.5 L355.2 280.5 L355.2 279.5 L357.2 279.5 L357.2 278.5 L362.2 278.5 L362.2 279.5 L363.2 279.5 L363.2 280.5 L364.2 279.8 L365.2 279.1 L366.2 278.4 L367.2 277.7 L368.2 277.0 L369.2 276.4 L370.2 275.7 L371.2 275.0 L372.2 274.4 L373.2 273.7 L374.2 273.0 L375.2 272.3 L376.2 271.6 L377.2 270.9 L378.2 270.2 L379.2 269.6 L380.2 268.9 L381.2 268.2 L382.2 267.5 L383.2 266.9 L384.2 266.2 L385.2 265.5 L386.2 264.9 L387.2 264.1 L388.2 263.4 L389.2 262.6 L390.2 261.9 L391.2 261.1 L392.2 260.3 L393.2 259.3 L394.2 258.3 L395.2 257.3 L396.2 256.3 L397.2 255.3 L398.2 254.2 L399.2 253.1 L400.2 252.0 L401.2 250.9 L402.2 249.7 L403.2 248.4 L404.2 247.1 L405.2 245.8 L406.2 244.5 L407.2 243.4 L408.2 242.7 L409.2 242.1 L410.2 241.5 L411.2 240.8 L412.2 240.2 L413.2 238.7 L414.2 236.8 L415.2 234.9 L416.2 233.1 L417.2 231.8 L418.2 230.8 L419.2 229.8 L420.2 228.8 L421.2 228.1 L422.2 227.5 L423.2 226.4 L424.2 223.6 L425.2 220.8 L426.2 219.3 L427.2 218.2 L428.2 216.8 L429.2 215.4 L430.2 213.9 L431.2 216.1 L432.2 219.1 L433.2 219.6 L434.2 220.1 L435.2 221.1 L436.2 218.8 L437.2 214.4 L438.2 211.4 L439.2 209.6 L440.2 208.3 L441.2 207.0 L442.2 205.7 L443.2 204.5 L444.2 203.2 L445.2 201.9 L446.2 203.6 L447.2 206.6 L448.2 208.2 L449.2 207.5 L450.2 206.0 L451.2 206.9 L452.2 208.9 L453.2 210.9 L454.2 212.5 L455.2 214.0 L456.2 211.7 L457.2 207.7 L458.2 203.9 L459.2 200.1 L460.2 195.3 L461.2 192.0 L462.2 190.3 L463.2 189.3 L464.2 188.6 L465.2 189.4 L466.2 190.3 L467.2 192.0 L468.2 189.2 L469.2 184.4 L470.2 182.2 L471.2 181.4 L472.2 182.6 L473.2 184.8 L474.2 191.1 L475.2 193.0 L476.2 193.0 L477.2 193.5 L478.2 192.5 L479.2 186.7 L480.2 187.7 L481.2 189.3 L482.2 192.4 L483.2 191.6 L484.2 190.2 L485.2 186.4 L486.2 182.6 L487.2 181.1 L488.2 180.5 L489.2 179.7 L490.2 178.2 L491.2 176.9 L492.2 176.5 L493.2 176.1 L494.2 175.6 L495.2 175.7 L496.2 175.5 L497.2 173.2 L498.2 173.4 L499.2 175.0 L500.2 177.8 L501.2 179.8 L502.2 178.8 L503.2 177.5 L504.2 174.7 L505.2 172.2 L506.2 170.8 L507.2 169.4 L508.2 167.9 L509.2 168.2 L510.2 168.5 L511.2 168.4 L512.2 167.9 L513.2 167.2 L514.2 165.7 L515.2 164.2 L516.2 163.9 L517.2 168.1 L518.2 171.8 L519.2 173.5 L520.2 171.5 L521.2 168.0 L522.2 166.4 L523.2 165.6 L524.2 164.6 L525.2 162.4 L526.2 160.2 L527.2 157.4 L528.2 155.8 L529.2 159.8 L530.2 163.0 L531.2 163.0 L532.2 160.1 L533.2 156.0 L534.2 159.5 L535.2 163.0 L536.2 163.2 L537.2 162.0 L538.2 160.8 L539.2 158.6 L540.2 155.8 L541.2 154.8 L542.2 154.2 L543.2 152.7 L544.2 151.0 L545.2 148.3 L546.2 148.0 L547.2 148.8 L548.2 149.4 L549.2 148.4 L550.2 146.8 L551.2 145.7 L552.2 146.7 L553.2 146.1 L554.2 144.8 L555.2 143.5 L556.2 142.2 L557.2 141.4 L558.2 142.2 L559.2 143.1 L560.2 143.9 L561.2 143.1 L562.2 141.5 L563.2 140.0 L564.2 138.3 L565.2 136.5 L566.2 134.8 L567.2 133.0 L568.2 133.9 L569.2 135.9 L570.2 136.3 L571.2 136.3 L572.2 137.5 L573.2 137.9 L574.2 135.2 L575.2 132.8 L576.2 132.1 L577.2 131.3 L578.2 130.6 L579.2 129.9 L580.2 129.6 L581.2 129.3 L582.2 128.5 L584.2 128.5 L585.2 129.8 L586.2 130.0 L587.2 130.0 L588.2 132.6 L589.2 136.4 L590.2 136.0 L591.2 133.8 L592.2 131.6 L593.2 129.8 L594.2 128.0 L595.2 126.2 L596.2 124.4 L597.2 122.9 L598.2 122.1 L599.2 121.4 L600.2 120.7 L601.2 125.8 L602.2 131.0 L603.2 134.2 L604.2 133.0 L605.2 131.2 L606.2 127.2 L607.2 123.7 L608.2 122.2 L609.2 120.9 L610.2 120.2 L611.2 119.5 L612.2 120.1 L613.2 121.1 L614.2 122.4 L615.2 124.2 L616.2 126.1 L617.2 127.9 L618.2 127.8 L619.2 126.8 L620.2 125.7 L621.2 124.2 L622.2 122.7 L623.2 121.2 L624.2 119.7 L625.2 118.2 L626.2 116.7 L627.2 115.2 L628.2 113.8 L629.2 112.8 L630.2 111.8 L631.2 111.4 L632.2 113.4 L633.2 114.9 L634.2 114.3 L635.2 113.7 L636.2 114.9 L637.2 116.9 L638.2 118.9 L639.2 118.4 L640.2 116.9 L641.2 114.2 L642.2 111.3 L643.2 110.3 L644.2 109.3 L645.2 108.5 L646.2 108.5 L652.2 108.5 L652.2 107.5 L653.2 107.5 L654.2 107.4 L655.2 107.2 L656.2 107.5 L657.2 110.2 L658.2 113.5 L659.2 117.0 L660.2 117.8 L661.2 117.5 L662.2 117.2 L663.2 116.3 L664.2 112.6 L665.2 110.8 L666.2 109.8 L667.2 108.8 L668.2 108.5 L669.2 108.5 L671.2 108.5 L672.2 108.9 L673.2 109.6 L674.2 110.3 L675.2 110.5 L677.2 110.5 L677.2 109.5 L680.2 109.5 L680.2 108.5 L681.2 108.5 L682.2 108.2 L683.2 108.7 L684.2 112.4 L685.2 114.4 L686.2 115.8 L687.2 117.1 L688.2 117.4 L689.2 117.2 L690.2 117.3 L691.2 119.0 L692.2 118.3 L693.2 116.7 L694.2 115.0 L695.2 116.0 L696.2 118.2 L697.2 120.5 L698.2 122.8 L699.2 121.8 L700.2 119.4 L701.2 118.3 L702.2 122.3 L703.2 122.4 L704.2 120.8 L705.2 119.3 L706.2 117.6 L707.2 115.8 L708.2 113.9 L709.2 112.1 L710.2 114.7 L711.2 119.2 L712.2 120.4 L713.2 120.2 L714.2 120.5 L715.2 120.5 L716.2 120.3 L717.2 120.8 L718.2 122.3 L719.2 123.2 L720.2 121.8 L721.2 120.4 L722.2 118.9 L723.2 119.4 L724.2 120.6 L725.2 123.6 L726.2 126.8 L727.2 128.3 L728.2 129.4 L729.2 128.9 L730.2 128.8 L731.2 130.3 L732.2 131.4 L733.2 131.2 L734.2 130.5 L738.2 130.5 L739.2 130.7 L740.2 131.9 L741.2 133.0 L742.2 134.2 L743.2 134.3 L744.2 134.5 L745.2 134.5 L745.2 133.5 L747.2 133.5 L747.2 134.5 L748.2 134.5 L748.2 133.5 L756.2 133.5 L757.2 133.2 L758.2 133.2 L759.2 134.5 L760.2 136.4 L761.2 136.6 L762.2 136.0 L763.2 135.9 L764.2 137.6 L765.2 139.4 L766.2 141.1 L767.2 142.3 L768.2 141.5 L769.2 140.6 L770.2 139.8 L771.2 140.6 L772.2 142.1 L773.2 142.5 L776.2 142.5 L777.2 143.3 L778.2 144.5 L779.2 145.7 L780.2 146.6 L781.2 147.5 L782.2 148.0 L783.2 146.8 L784.2 145.6 L785.2 144.4 L786.2 143.5 L787.2 143.3 L788.2 143.5 L789.2 143.5 L789.2 142.5 L794.2 142.5 L795.2 142.9 L796.2 145.1 L797.2 147.3 L798.2 147.9 L799.2 147.8 L800.2 147.7 L801.2 147.5 L802.2 148.6 L803.2 150.1 L804.2 151.6 L805.2 151.9 L806.2 151.7 L807.2 152.0 L808.2 154.6 L809.2 157.2 L810.2 157.7 L811.2 157.2 L812.2 156.7 L813.2 157.4 L814.2 158.6 L815.2 159.8 L816.2 161.0 L817.2 162.5 L818.2 165.2 L819.2 166.8 L820.2 167.9 L821.2 169.1 L822.2 171.2 L823.2 173.6 L824.2 174.4 L825.2 175.3 L826.2 176.1 L827.2 176.9 L828.2 177.3 L829.2 177.4 L830.2 177.7 L831.2 178.9 L832.2 180.1 L833.2 181.3 L834.2 182.8 L835.2 184.3 L836.2 185.5 L837.2 185.3 L838.2 185.2 L839.2 185.0 L840.2 186.1 L841.2 187.7 L842.2 188.3 L843.2 188.3 L844.2 188.4 L845.2 188.7 L846.2 189.5 L847.2 190.3 L848.2 190.5 L850.2 190.5 L851.2 191.4 L852.2 192.6 L853.2 193.8 L854.2 195.0 L855.2 196.1 L856.2 196.4 L857.2 196.7 L858.2 197.5 L859.2 197.5 L859.2 198.5 L860.2 198.5 L860.2 197.5 L864.2 197.5 L865.2 198.0 L866.2 198.4 L867.2 198.9 L868.2 199.5 L869.2 200.2 L870.2 200.8 L871.2 201.4 L872.2 202.0 L873.2 202.5 L876.2 202.5 L877.2 203.1 L878.2 203.6 L879.2 204.1 L880.2 204.5 L881.2 205.5 L882.2 205.5 L882.2 204.5 L883.2 205.1 L884.2 205.2 L885.2 206.3 L886.2 207.7 L887.2 208.6 L888.2 209.4 L889.2 210.3 L890.2 210.5 L891.2 210.5 L894.2 210.5 L895.2 211.3 L896.2 211.7 L897.2 212.2 L898.2 212.8 L899.2 213.3 L900.2 213.9 L901.2 214.4 L902.2 214.8 L903.2 215.3 L904.2 215.7 L905.2 217.0 L906.2 218.4 L907.2 219.9 L908.2 220.8 L909.2 221.2 L910.2 221.6 L911.2 222.0 L912.2 222.7 L913.2 223.6 L914.2 224.5 L915.2 225.2 L916.2 225.5 L918.2 225.5 L918.2 224.5 L919.2 225.1 L920.2 225.8 L921.2 226.4 L922.2 227.4 L923.2 228.7 L924.2 230.1 L925.2 230.6 L926.2 230.7 L927.2 230.5 L928.2 231.1 L929.2 231.3 L930.2 231.6 L931.2 233.1 L932.2 234.6 L933.2 235.5 L934.2 235.7 L935.2 235.5 L938.2 235.5 L938.2 236.5 L939.2 236.7 L940.2 237.0 L941.2 237.3 L942.2 238.4 L943.2 239.5 L944.2 240.7 L945.2 241.8 L946.2 242.1 L947.2 242.3 L948.2 242.5 L949.2 243.3 L950.2 244.5 L951.2 245.6 L952.2 246.1 L953.2 245.5 L954.2 245.5 L955.2 246.0 L956.2 246.7 L957.2 247.5 L958.2 248.2 L959.2 248.8 L960.2 248.5 L962.2 248.5 L963.2 248.6 L964.2 248.5 L965.2 250.2 L966.2 251.4 L967.2 251.5 L968.2 251.6 L969.2 251.9 L970.2 252.6 L971.2 253.3 L972.2 253.5 L973.2 253.5 L973.2 252.5 L976.2 252.5 L976.2 253.5 L978.2 253.5 L978.2 254.5 L979.2 254.5 L979.2 253.5 L980.2 253.2 L981.2 254.1 L982.2 255.0 L983.2 255.9 L984.2 256.8 L985.2 256.9 L986.0 256.5"/>
<text xml:space="preserve"><tspan x="532.31" y="132.90" textLength="7.47" lengthAdjust="spacingAndGlyphs">"</tspan><tspan x="539.11" y="132.90" textLength="5.47" lengthAdjust="spacingAndGlyphs">/</tspan><tspan x="544.58" y="132.90" textLength="10.30" lengthAdjust="spacingAndGlyphs">h</tspan><tspan x="554.88" y="132.90" textLength="9.94" lengthAdjust="spacingAndGlyphs">o</tspan><tspan x="564.82" y="132.90" textLength="15.83" lengthAdjust="spacingAndGlyphs">m</tspan><tspan x="580.65" y="132.90" textLength="10.00" lengthAdjust="spacingAndGlyphs">e</tspan><tspan x="590.65" y="132.90" textLength="5.47" lengthAdjust="spacingAndGlyphs">/</tspan><tspan x="596.12" y="132.90" textLength="10.31" lengthAdjust="spacingAndGlyphs">p</tspan><tspan x="606.43" y="132.90" textLength="4.51" lengthAdjust="spacingAndGlyphs">i</tspan><tspan x="610.95" y="132.90" textLength="5.47" lengthAdjust="spacingAndGlyphs">/</tspan><tspan x="616.42" y="132.90" textLength="10.31" lengthAdjust="spacingAndGlyphs">p</tspan><tspan x="626.74" y="132.90" textLength="4.51" lengthAdjust="spacingAndGlyphs">i</tspan><tspan x="631.25" y="132.90" textLength="10.34" lengthAdjust="spacingAndGlyphs">1</tspan><tspan x="641.59" y="132.90" textLength="10.34" lengthAdjust="spacingAndGlyphs">0</tspan><tspan x="651.93" y="132.90" textLength="5.47" lengthAdjust="spacingAndGlyphs">/</tspan><tspan x="656.55" y="132.90" textLength="9.29" lengthAdjust="spacingAndGlyphs">F</tspan><tspan x="665.65" y="132.90" textLength="6.05" lengthAdjust="spacingAndGlyphs">t</tspan><tspan x="671.84" y="132.90" textLength="9.94" lengthAdjust="spacingAndGlyphs">e</tspan><tspan x="681.77" y="132.90" textLength="15.73" lengthAdjust="spacingAndGlyphs">m</tspan><tspan x="697.51" y="132.90" textLength="10.25" lengthAdjust="spacingAndGlyphs">p</tspan><tspan x="707.76" y="132.90" textLength="9.94" lengthAdjust="spacingAndGlyphs">e</tspan><tspan x="717.70" y="132.90" textLength="6.64" lengthAdjust="spacingAndGlyphs">r</tspan><tspan x="724.34" y="132.90" textLength="9.90" lengthAdjust="spacingAndGlyphs">a</tspan><tspan x="734.38" y="132.90" textLength="6.05" lengthAdjust="spacingAndGlyphs">t</tspan><tspan x="740.56" y="132.90" textLength="10.24" lengthAdjust="spacingAndGlyphs">u</tspan><tspan x="750.80" y="132.90" textLength="6.64" lengthAdjust="spacingAndGlyphs">r</tspan><tspan x="757.44" y="132.90" textLength="9.94" lengthAdjust="spacingAndGlyphs">e</tspan><tspan x="767.38" y="132.90" textLength="8.41" lengthAdjust="spacingAndGlyphs">s</tspan><tspan x="775.79" y="132.90" textLength="10.28" lengthAdjust="spacingAndGlyphs">1</tspan><tspan x="786.07" y="132.90" textLength="5.13" lengthAdjust="spacingAndGlyphs">.</tspan><tspan x="791.35" y="132.90" textLength="6.05" lengthAdjust="spacingAndGlyphs">t</tspan><tspan x="797.53" y="132.90" textLength="9.56" lengthAdjust="spacingAndGlyphs">x</tspan><tspan x="807.24" y="132.90" textLength="6.05" lengthAdjust="spacingAndGlyphs">t</tspan><tspan x="812.76" y="132.90" textLength="7.43" lengthAdjust="spacingAndGlyphs">"</tspan> <tspan x="825.90" y="132.90" textLength="10.31" lengthAdjust="spacingAndGlyphs">u</tspan><tspan x="836.03" y="132.90" textLength="8.48" lengthAdjust="spacingAndGlyphs">s</tspan><tspan x="844.51" y="132.90" textLength="4.52" lengthAdjust="spacingAndGlyphs">i</tspan><tspan x="849.03" y="132.90" textLength="10.31" lengthAdjust="spacingAndGlyphs">n</tspan><tspan x="859.07" y="132.90" textLength="10.33" lengthAdjust="spacingAndGlyphs">g</tspan> <tspan x="874.58" y="132.90" textLength="10.37" lengthAdjust="spacingAndGlyphs">1</tspan><tspan x="884.58" y="132.90" textLength="5.49" lengthAdjust="spacingAndGlyphs">:</tspan><tspan x="889.37" y="132.90" textLength="10.37" lengthAdjust="spacingAndGlyphs">2</tspan></text>
<path d="M914 128.5H965" stroke="#56b4e9" stroke-width="1" fill="none" shape-rendering="crispEdges"/>
<path class="c" stroke="#56b4e9" d="M126.3 183.5 L131.3 183.5 L131.3 182.5 L132.3 182.5 L132.3 183.5 L140.3 183.5 L140.3 184.5 L145.3 184.5 L145.3 183.5 L146.3 183.5 L146.3 184.5 L148.3 184.5 L148.3 183.5 L149.3 183.5 L149.3 184.5 L157.3 184.5 L157.3 185.5 L161.3 185.5 L161.3 186.5 L162.3 186.5 L162.3 185.5 L185.3 185.5 L185.3 186.5 L188.3 186.5 L188.3 187.5 L189.3 187.5 L189.3 186.5 L197.3 186.5 L197.3 187.5 L198.3 187.5 L198.3 186.5 L204.3 186.5 L204.3 187.5 L205.3 187.5 L205.3 186.5 L206.3 186.5 L206.3 187.5 L208.3 187.5 L208.3 186.5 L209.3 186.5 L209.3 187.5 L223.3 187.5 L223.3 188.5 L242.3 188.5 L242.3 189.5 L249.3 189.5 L249.3 190.5 L250.3 190.5 L250.3 189.5 L261.3 189.5 L261.3 190.5 L262.3 190.5 L262.3 189.5 L263.3 189.5 L263.3 190.5 L283.3 190.5 L283.3 189.5 L284.3 189.5 L284.3 190.5 L285.3 190.5 L285.3 191.5 L300.3 191.5 L300.3 192.5 L301.3 192.5 L301.3 191.5 L302.3 191.5 L302.3 192.5 L303.3 192.5 L303.3 191.5 L306.3 191.5 L306.3 192.5 L315.3 192.5 L315.3 194.5 L316.3 194.5 L316.3 193.5 L319.3 193.5 L319.3 194.5 L320.3 194.5 L320.3 193.5 L324.3 193.5 L324.3 194.5 L325.3 194.5 L325.3 193.5 L334.3 193.5 L334.3 194.5 L347.3 194.5 L347.3 195.5 L348.3 195.5 L348.3 194.5 L354.3 194.5 L354.3 195.5 L355.3 195.5 L355.3 194.5 L356.3 194.5 L356.3 193.5 L357.3 193.5 L357.3 194.5 L358.3 194.5 L358.3 193.5 L360.3 193.5 L360.3 194.5 L371.3 194.5 L371.3 195.5 L379.3 195.5 L379.3 196.5 L395.3 196.5 L395.3 197.5 L413.3 197.5 L413.3 196.5 L414.3 196.5 L414.3 197.5 L423.3 197.5 L423.3 196.5 L424.3 196.5 L424.3 197.5 L429.3 197.5 L429.3 198.5 L430.3 198.5 L430.3 197.5 L435.3 197.5 L435.3 198.5 L436.3 198.5 L436.3 197.5 L447.3 197.5 L447.3 196.5 L461.3 196.5 L461.3 195.5 L466.3 195.5 L466.3 194.5 L472.3 194.5 L472.3 193.5 L484.3 193.5 L484.3 192.5 L488.3 192.5 L488.3 191.5 L493.3 191.5 L493.3 190.5 L499.3 190.5 L499.3 189.5 L503.3 189.5 L503.3 187.5 L504.3 187.5 L504.3 188.5 L507.3 188.5 L507.3 187.5 L513.3 187.5 L513.3 186.5 L518.3 186.5 L518.3 185.5 L529.3 185.5 L529.3 184.5 L534.3 184.5 L534.3 183.5 L539.3 183.5 L539.3 182.5 L544.3 182.5 L544.3 181.5 L546.3 181.5 L547.3 181.3 L548.3 181.2 L549.3 179.8 L550.3 179.5 L551.3 179.5 L556.3 179.5 L556.3 178.5 L557.3 178.5 L558.3 179.2 L559.3 179.0 L560.3 177.4 L561.3 175.8 L562.3 176.2 L563.3 177.0 L564.3 176.1 L565.3 174.8 L566.3 174.1 L567.3 173.6 L568.3 174.5 L573.3 174.5 L573.3 175.5 L574.3 175.5 L574.3 174.5 L575.3 173.7 L576.3 173.4 L577.3 173.0 L578.3 172.4 L579.3 171.8 L580.3 171.1 L581.3 171.0 L582.3 171.0 L583.3 170.4 L584.3 169.7 L585.3 169.0 L586.3 168.5 L587.3 168.5 L588.3 169.5 L589.3 170.2 L590.3 169.5 L592.3 169.5 L593.3 170.4 L594.3 169.5 L595.3 168.3 L596.3 167.3 L597.3 166.7 L598.3 166.5 L599.3 166.5 L599.3 167.5 L601.3 167.5 L602.3 167.1 L603.3 166.6 L604.3 166.1 L605.3 165.5 L606.3 171.6 L607.3 175.4 L608.3 175.8 L609.3 175.6 L610.3 176.5 L613.3 176.5 L614.3 176.1 L615.3 175.6 L616.3 175.1 L617.3 174.5 L618.3 173.9 L619.3 173.4 L620.3 173.1 L621.3 172.5 L627.3 172.5 L627.3 173.5 L628.3 173.5 L628.3 172.5 L632.3 172.5 L633.3 171.8 L634.3 171.5 L635.3 171.1 L636.3 167.4 L637.3 166.6 L638.3 166.8 L639.3 166.5 L640.3 166.5 L640.3 164.5 L641.3 164.5 L641.3 166.5 L642.3 165.9 L643.3 166.3 L644.3 167.1 L645.3 168.9 L646.3 169.3 L647.3 169.5 L648.3 169.5 L649.3 169.3 L650.3 168.8 L651.3 167.7 L652.3 168.3 L653.3 168.5 L654.3 168.5 L654.3 169.5 L655.3 169.5 L655.3 168.5 L658.3 168.5 L658.3 169.5 L659.3 169.5 L659.3 168.5 L660.3 168.5 L661.3 168.0 L662.3 167.6 L663.3 169.0 L664.3 169.3 L665.3 169.5 L671.3 169.5 L671.3 170.5 L672.3 170.3 L673.3 169.5 L674.3 168.7 L675.3 168.5 L676.3 168.5 L676.3 169.5 L684.3 169.5 L684.3 167.5 L685.3 167.5 L685.3 168.5 L688.3 168.5 L688.3 169.5 L689.3 169.5 L689.3 168.5 L692.3 168.5 L692.3 167.5 L696.3 167.5 L696.3 166.5 L702.3 166.5 L702.3 167.5 L703.3 167.5 L703.3 166.5 L706.3 166.5 L706.3 165.5 L707.3 165.5 L707.3 166.5 L712.3 166.5 L712.3 167.5 L716.3 167.5 L716.3 166.5 L719.3 166.5 L719.3 167.5 L720.3 167.5 L720.3 166.5 L722.3 166.5 L722.3 167.5 L723.3 167.5 L724.3 167.3 L725.3 166.7 L726.3 166.0 L727.3 165.4 L728.3 164.9 L729.3 164.5 L735.3 164.5 L735.3 165.5 L736.3 165.5 L736.3 164.5 L747.3 164.5 L747.3 165.5 L749.3 165.5 L750.3 165.7 L751.3 166.4 L752.3 167.0 L753.3 167.5 L754.3 167.5 L754.3 168.5 L755.3 166.6 L756.3 166.2 L757.3 165.5 L759.3 165.5 L759.3 166.5 L760.3 166.5 L760.3 165.5 L766.3 165.5 L766.3 166.5 L769.3 166.5 L769.3 167.5 L770.3 167.5 L770.3 166.5 L771.3 166.5 L771.3 167.5 L776.3 167.5 L776.3 168.5 L777.3 168.5 L777.3 167.5 L779.3 167.5 L779.3 166.5 L780.3 166.5 L780.3 167.5 L782.3 167.5 L782.3 168.5 L786.3 168.5 L786.3 169.5 L789.3 169.5 L789.3 167.5 L790.3 167.5 L790.3 168.5 L795.3 168.5 L795.3 169.5 L805.3 169.5 L805.3 170.5 L806.3 170.5 L806.3 169.5 L812.3 169.5 L812.3 168.5 L813.3 168.5 L813.3 170.5 L814.3 170.5 L814.3 171.5 L815.3 171.5 L815.3 169.5 L816.3 169.5 L816.3 170.5 L836.3 170.5 L836.3 171.5 L854.3 171.5 L854.3 170.5 L855.3 170.5 L855.3 171.5 L856.3 171.5 L856.3 173.5 L857.3 173.5 L857.3 172.5 L863.3 172.5 L863.3 173.5 L879.3 173.5 L879.3 172.5 L880.3 172.5 L880.3 173.5 L885.3 173.5 L885.3 174.5 L895.3 174.5 L895.3 173.5 L896.3 173.5 L896.3 174.5 L900.3 174.5 L900.3 175.5 L912.3 175.5 L912.3 176.5 L917.3 176.5 L917.3 177.5 L918.3 177.5 L918.3 176.5 L932.3 176.5 L932.3 177.5 L947.3 177.5 L947.3 178.5 L959.3 178.5 L959.3 179.5 L960.3 179.5 L960.3 180.5 L961.3 180.5 L961.3 179.5 L963.3 179.5 L963.3 180.5 L964.3 180.5 L964.3 179.5 L976.3 179.5 L976.3 180.5 L986.0 180.5"/>
<path class="ax" d="M91 432.5H97M980 432.5H986M91 343.5H97M980 343.5H986M91 253.5H97M980 253.5H986M91 164.5H97M980 164.5H986M127.5 522V519M127.5 75V78M164.5 522V516M164.5 75V81M202.5 522V519M202.5 75V78M239.5 522V516M239.5 75V81M276.5 522V519M276.5 75V78M314.5 522V516M314.5 75V81M351.5 522V519M351.5 75V78M388.5 522V516M388.5 75V81M426.5 522V519M426.5 75V78M463.5 522V516M463.5 75V81M501.5 522V519M501.5 75V78M538.5 522V516M538.5 75V81M575.5 522V519M575.5 75V78M613.5 522V516M613.5 75V81M650.5 522V519M650.5 75V78M688.5 522V516M688.5 75V81M725.5 522V519M725.5 75V78M762.5 522V516M762.5 75V81M800.5 522V519M800.5 75V78M837.5 522V516M837.5 75V81M874.5 522V519M874.5 75V78M912.5 522V516M912.5 75V81M949.5 522V519M949.5 75V78"/>
<rect class="ax" x="90.5" y="74.5" width="896.0" height="448.0"/>
</svg>
</body></html>
